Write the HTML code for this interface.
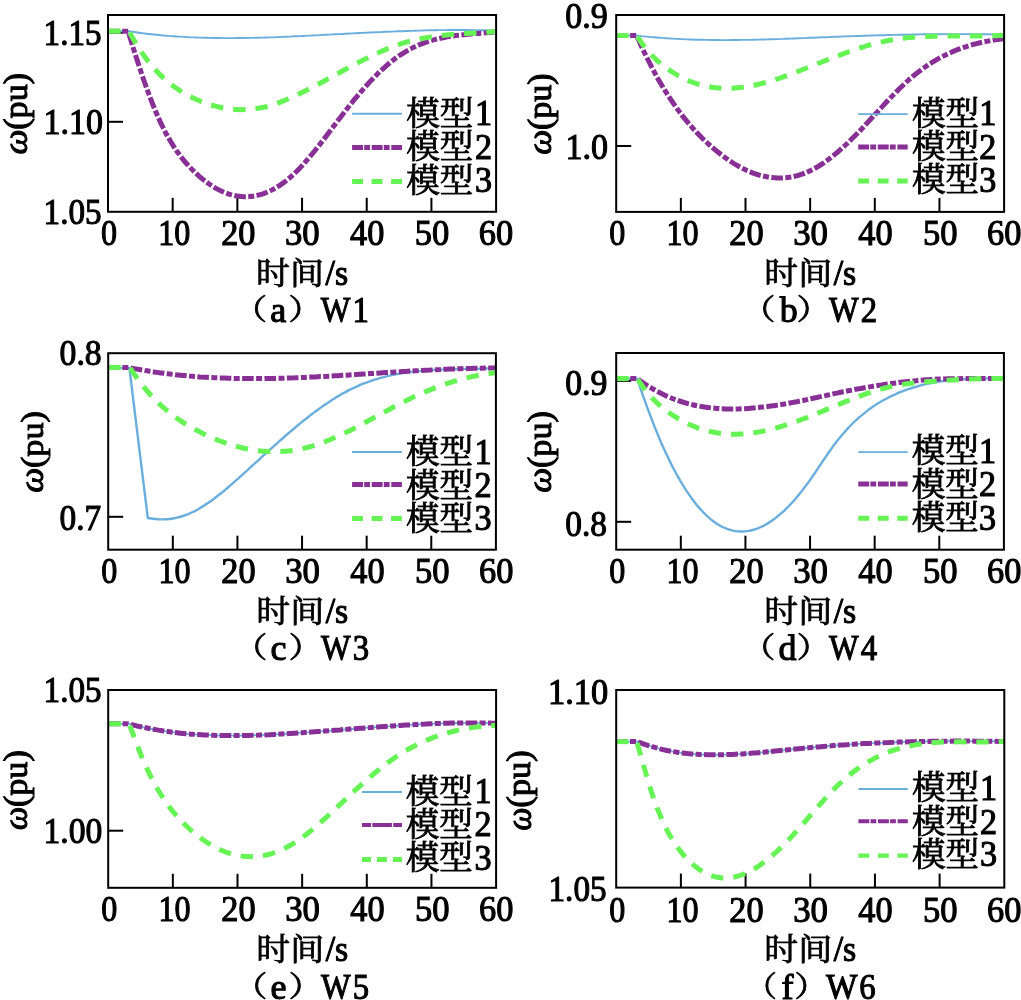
<!DOCTYPE html>
<html><head><meta charset="utf-8"><title>figure</title>
<style>
html,body{margin:0;padding:0;background:#fff;overflow:hidden;}
svg{display:block;}
.ax{stroke:#000;stroke-width:2.0;fill:none;}
.fr{stroke:#000;stroke-width:2.0;fill:none;}
.blue{stroke:#6aaede;stroke-width:1.9;fill:none;}
.purple{stroke:#893097;stroke-width:5.0;fill:none;stroke-dasharray:11.6 2.4 6 2.4;}
.green{stroke:#66f455;stroke-width:5.0;fill:none;stroke-dasharray:12.4 10;}
.purple.lg{stroke-dasharray:10.9 1.2 5.8 1.7;}
.green.lg{stroke-dasharray:10.9 8.6;}
.purple.lg2{stroke-width:4.0;stroke-dasharray:9 1.3 19.6 1.3 9 20;}
.green.lg2{stroke-dasharray:9 6 9.9 6.1 9 20;}
text{font-size:36px;fill:#000;stroke:#000;stroke-width:0.9px;stroke-linejoin:miter;stroke-miterlimit:3;}
.l{font-family:"Liberation Serif", serif;stroke-width:1.1px;}
.i{font-family:"Liberation Serif", serif;font-style:italic;stroke-width:1.1px;}
.c{font-family:"Liberation Serif", "Noto Serif CJK SC", serif;}
</style></head><body>
<svg width="1021" height="1000" viewBox="0 0 1021 1000">
<rect width="1021" height="1000" fill="#fff"/>
<line x1="172.68" y1="211.80" x2="172.68" y2="197.80" class="ax"/>
<line x1="237.37" y1="211.80" x2="237.37" y2="197.80" class="ax"/>
<line x1="302.05" y1="211.80" x2="302.05" y2="197.80" class="ax"/>
<line x1="366.73" y1="211.80" x2="366.73" y2="197.80" class="ax"/>
<line x1="431.42" y1="211.80" x2="431.42" y2="197.80" class="ax"/>
<line x1="108.00" y1="32.60" x2="123.00" y2="32.60" class="ax"/>
<line x1="108.00" y1="121.80" x2="123.00" y2="121.80" class="ax"/>
<path d="M108.20,31.30 L128.70,31.30 L128.7,31.3 C129.5,31.4 132.1,31.8 133.7,32.0 C135.4,32.3 137.1,32.5 138.8,32.7 C140.4,33.0 142.1,33.2 143.8,33.4 C145.5,33.6 147.1,33.8 148.8,34.0 C150.5,34.2 152.2,34.3 153.9,34.5 C155.5,34.7 157.2,34.9 158.9,35.0 C160.6,35.2 162.2,35.3 163.9,35.5 C165.6,35.6 167.3,35.8 169.0,35.9 C170.6,36.0 172.3,36.2 174.0,36.3 C175.7,36.4 177.3,36.5 179.0,36.6 C180.7,36.7 182.4,36.8 184.0,36.9 C185.7,37.0 187.4,37.1 189.1,37.2 C190.8,37.2 192.4,37.3 194.1,37.4 C195.8,37.5 197.5,37.5 199.1,37.6 C200.8,37.6 202.5,37.7 204.2,37.7 C205.8,37.8 207.5,37.8 209.2,37.9 C210.9,37.9 212.6,37.9 214.2,38.0 C215.9,38.0 217.6,38.0 219.3,38.0 C220.9,38.1 222.6,38.1 224.3,38.1 C226.0,38.1 227.7,38.1 229.3,38.1 C231.0,38.1 232.7,38.1 234.4,38.1 C236.0,38.1 237.7,38.0 239.4,38.0 C241.1,38.0 242.7,38.0 244.4,38.0 C246.1,37.9 247.8,37.9 249.5,37.9 C251.1,37.9 252.8,37.8 254.5,37.8 C256.2,37.7 257.8,37.7 259.5,37.7 C261.2,37.6 262.9,37.6 264.6,37.5 C266.2,37.5 267.9,37.4 269.6,37.4 C271.3,37.3 272.9,37.2 274.6,37.2 C276.3,37.1 278.0,37.1 279.6,37.0 C281.3,36.9 283.0,36.9 284.7,36.8 C286.4,36.7 288.0,36.6 289.7,36.6 C291.4,36.5 293.1,36.4 294.7,36.3 C296.4,36.3 298.1,36.2 299.8,36.1 C301.4,36.0 303.1,36.0 304.8,35.9 C306.5,35.8 308.2,35.7 309.8,35.6 C311.5,35.5 313.2,35.5 314.9,35.4 C316.5,35.3 318.2,35.2 319.9,35.1 C321.6,35.0 323.3,34.9 324.9,34.8 C326.6,34.8 328.3,34.7 330.0,34.6 C331.6,34.5 333.3,34.4 335.0,34.3 C336.7,34.2 338.3,34.1 340.0,34.1 C341.7,34.0 343.4,33.9 345.1,33.8 C346.7,33.7 348.4,33.6 350.1,33.5 C351.8,33.4 353.4,33.4 355.1,33.3 C356.8,33.2 358.5,33.1 360.1,33.0 C361.8,32.9 363.5,32.9 365.2,32.8 C366.9,32.7 368.5,32.6 370.2,32.5 C371.9,32.4 373.6,32.4 375.2,32.3 C376.9,32.2 378.6,32.1 380.3,32.1 C382.0,32.0 383.6,31.9 385.3,31.8 C387.0,31.8 388.7,31.7 390.3,31.6 C392.0,31.6 393.7,31.5 395.4,31.4 C397.0,31.3 398.7,31.3 400.4,31.2 C402.1,31.2 403.8,31.1 405.4,31.0 C407.1,31.0 408.8,30.9 410.5,30.9 C412.1,30.8 413.8,30.8 415.5,30.7 C417.2,30.7 418.9,30.6 420.5,30.6 C422.2,30.5 423.9,30.5 425.6,30.4 C427.2,30.4 428.9,30.4 430.6,30.3 C432.3,30.3 433.9,30.3 435.6,30.2 C437.3,30.2 439.0,30.2 440.7,30.1 C442.3,30.1 444.0,30.1 445.7,30.1 C447.4,30.1 449.0,30.0 450.7,30.0 C452.4,30.0 454.1,30.0 455.7,30.0 C457.4,30.0 459.1,30.0 460.8,30.0 C462.5,30.0 464.1,30.0 465.8,30.0 C467.5,30.0 469.2,30.0 470.8,30.1 C472.5,30.1 474.2,30.1 475.9,30.1 C477.6,30.1 479.2,30.2 480.9,30.2 C482.6,30.2 484.3,30.3 485.9,30.3 C487.6,30.3 489.3,30.4 491.0,30.4 C492.6,30.5 495.2,30.6 496.0,30.6" class="blue"/>
<path d="M108.20,31.30 L128.20,31.30 L128.2,31.3 C129.0,34.1 131.6,42.5 133.2,47.9 C134.9,53.3 136.6,58.5 138.3,63.7 C140.0,68.8 141.6,73.8 143.3,78.7 C145.0,83.5 146.7,88.3 148.4,92.8 C150.0,97.4 151.7,101.8 153.4,106.0 C155.1,110.1 156.8,114.1 158.4,117.9 C160.1,121.6 161.8,125.1 163.5,128.5 C165.1,131.8 166.8,134.9 168.5,137.9 C170.2,140.8 171.9,143.6 173.5,146.2 C175.2,148.8 176.9,151.3 178.6,153.6 C180.3,155.9 181.9,158.0 183.6,160.1 C185.3,162.2 187.0,164.1 188.7,165.9 C190.3,167.7 192.0,169.5 193.7,171.1 C195.4,172.8 197.1,174.3 198.7,175.8 C200.4,177.3 202.1,178.7 203.8,180.1 C205.5,181.4 207.1,182.6 208.8,183.8 C210.5,185.0 212.2,186.1 213.9,187.1 C215.5,188.1 217.2,189.0 218.9,189.9 C220.6,190.8 222.2,191.5 223.9,192.2 C225.6,192.9 227.3,193.5 229.0,194.1 C230.6,194.6 232.3,195.0 234.0,195.4 C235.7,195.8 237.4,196.1 239.0,196.3 C240.7,196.5 242.4,196.6 244.1,196.7 C245.8,196.7 247.4,196.7 249.1,196.6 C250.8,196.5 252.5,196.3 254.2,196.0 C255.8,195.7 257.5,195.4 259.2,194.9 C260.9,194.5 262.6,193.9 264.2,193.3 C265.9,192.7 267.6,192.0 269.3,191.3 C271.0,190.5 272.6,189.6 274.3,188.7 C276.0,187.8 277.7,186.7 279.4,185.6 C281.0,184.5 282.7,183.3 284.4,182.1 C286.1,180.8 287.7,179.4 289.4,178.0 C291.1,176.6 292.8,175.0 294.5,173.4 C296.1,171.8 297.8,170.1 299.5,168.4 C301.2,166.6 302.9,164.8 304.5,162.9 C306.2,161.0 307.9,159.1 309.6,157.1 C311.3,155.1 312.9,153.1 314.6,151.0 C316.3,148.9 318.0,146.8 319.7,144.6 C321.3,142.5 323.0,140.3 324.7,138.1 C326.4,135.9 328.1,133.7 329.7,131.5 C331.4,129.3 333.1,127.1 334.8,124.8 C336.5,122.6 338.1,120.4 339.8,118.2 C341.5,116.0 343.2,113.8 344.8,111.6 C346.5,109.4 348.2,107.3 349.9,105.2 C351.6,103.1 353.2,101.0 354.9,98.9 C356.6,96.9 358.3,94.9 360.0,92.9 C361.6,91.0 363.3,89.0 365.0,87.2 C366.7,85.3 368.4,83.4 370.0,81.6 C371.7,79.8 373.4,78.1 375.1,76.4 C376.8,74.7 378.4,73.0 380.1,71.4 C381.8,69.8 383.5,68.3 385.2,66.8 C386.8,65.3 388.5,63.9 390.2,62.5 C391.9,61.1 393.6,59.8 395.2,58.6 C396.9,57.3 398.6,56.1 400.3,55.0 C402.0,53.9 403.6,52.8 405.3,51.8 C407.0,50.8 408.7,49.9 410.3,49.0 C412.0,48.1 413.7,47.3 415.4,46.5 C417.1,45.7 418.7,45.0 420.4,44.3 C422.1,43.7 423.8,43.0 425.5,42.4 C427.1,41.8 428.8,41.3 430.5,40.8 C432.2,40.3 433.9,39.8 435.5,39.4 C437.2,38.9 438.9,38.5 440.6,38.2 C442.3,37.8 443.9,37.5 445.6,37.2 C447.3,36.8 449.0,36.6 450.7,36.3 C452.3,36.0 454.0,35.8 455.7,35.6 C457.4,35.4 459.1,35.2 460.7,35.0 C462.4,34.8 464.1,34.6 465.8,34.5 C467.4,34.3 469.1,34.2 470.8,34.0 C472.5,33.9 474.2,33.7 475.8,33.6 C477.5,33.5 479.2,33.4 480.9,33.2 C482.6,33.1 484.2,33.0 485.9,32.8 C487.6,32.7 489.3,32.5 491.0,32.4 C492.6,32.2 495.2,32.0 496.0,31.9" class="purple"/>
<path d="M108.20,31.30 L129.00,31.30 L129.0,31.3 C129.8,32.8 132.4,37.5 134.0,40.3 C135.7,43.2 137.4,45.9 139.1,48.5 C140.7,51.1 142.4,53.5 144.1,55.8 C145.8,58.2 147.4,60.4 149.1,62.5 C150.8,64.5 152.5,66.5 154.1,68.4 C155.8,70.3 157.5,72.1 159.2,73.8 C160.8,75.5 162.5,77.1 164.2,78.6 C165.9,80.1 167.5,81.5 169.2,82.9 C170.9,84.3 172.6,85.6 174.2,86.8 C175.9,88.0 177.6,89.1 179.3,90.2 C180.9,91.3 182.6,92.4 184.3,93.3 C186.0,94.3 187.7,95.2 189.3,96.1 C191.0,97.0 192.7,97.8 194.4,98.5 C196.0,99.3 197.7,100.1 199.4,100.8 C201.1,101.5 202.7,102.1 204.4,102.7 C206.1,103.3 207.8,103.9 209.4,104.5 C211.1,105.0 212.8,105.5 214.5,105.9 C216.1,106.4 217.8,106.8 219.5,107.2 C221.2,107.6 222.8,107.9 224.5,108.2 C226.2,108.5 227.9,108.7 229.5,108.9 C231.2,109.1 232.9,109.3 234.6,109.4 C236.3,109.5 237.9,109.6 239.6,109.7 C241.3,109.7 243.0,109.7 244.6,109.6 C246.3,109.6 248.0,109.5 249.7,109.4 C251.3,109.2 253.0,109.0 254.7,108.8 C256.4,108.6 258.0,108.3 259.7,108.0 C261.4,107.7 263.1,107.4 264.7,107.0 C266.4,106.6 268.1,106.1 269.8,105.6 C271.4,105.1 273.1,104.6 274.8,104.1 C276.5,103.5 278.1,102.9 279.8,102.3 C281.5,101.7 283.2,101.0 284.8,100.3 C286.5,99.7 288.2,99.0 289.9,98.2 C291.6,97.5 293.2,96.7 294.9,96.0 C296.6,95.2 298.3,94.4 299.9,93.6 C301.6,92.8 303.3,91.9 305.0,91.1 C306.6,90.3 308.3,89.4 310.0,88.6 C311.7,87.7 313.3,86.8 315.0,85.9 C316.7,85.0 318.4,84.2 320.0,83.3 C321.7,82.4 323.4,81.4 325.1,80.5 C326.7,79.6 328.4,78.7 330.1,77.8 C331.8,76.9 333.4,76.0 335.1,75.0 C336.8,74.1 338.5,73.2 340.2,72.3 C341.8,71.4 343.5,70.4 345.2,69.5 C346.9,68.6 348.5,67.7 350.2,66.8 C351.9,65.9 353.6,65.0 355.2,64.1 C356.9,63.2 358.6,62.4 360.3,61.5 C361.9,60.6 363.6,59.8 365.3,58.9 C367.0,58.1 368.6,57.3 370.3,56.4 C372.0,55.6 373.7,54.8 375.3,54.1 C377.0,53.3 378.7,52.5 380.4,51.8 C382.0,51.0 383.7,50.3 385.4,49.6 C387.1,48.9 388.7,48.2 390.4,47.6 C392.1,46.9 393.8,46.3 395.5,45.7 C397.1,45.1 398.8,44.5 400.5,44.0 C402.2,43.4 403.8,42.9 405.5,42.4 C407.2,41.9 408.9,41.4 410.5,41.0 C412.2,40.6 413.9,40.2 415.6,39.8 C417.2,39.4 418.9,39.0 420.6,38.7 C422.3,38.4 423.9,38.0 425.6,37.7 C427.3,37.5 429.0,37.2 430.6,36.9 C432.3,36.7 434.0,36.4 435.7,36.2 C437.3,36.0 439.0,35.8 440.7,35.6 C442.4,35.4 444.1,35.2 445.7,35.0 C447.4,34.9 449.1,34.7 450.8,34.6 C452.4,34.4 454.1,34.3 455.8,34.2 C457.5,34.0 459.1,33.9 460.8,33.8 C462.5,33.7 464.2,33.6 465.8,33.5 C467.5,33.4 469.2,33.3 470.9,33.2 C472.5,33.1 474.2,33.0 475.9,32.9 C477.6,32.8 479.2,32.7 480.9,32.6 C482.6,32.4 484.3,32.3 485.9,32.2 C487.6,32.1 489.3,32.0 491.0,31.9 C492.6,31.8 495.2,31.6 496.0,31.5" class="green"/>
<rect x="108.00" y="15.00" width="388.10" height="196.80" class="fr"/>
<line x1="352.10" y1="113.80" x2="402.00" y2="113.80" class="blue lg"/>
<line x1="352.10" y1="147.50" x2="402.00" y2="147.50" class="purple lg"/>
<line x1="352.10" y1="181.40" x2="402.00" y2="181.40" class="green lg"/>
<line x1="680.85" y1="211.90" x2="680.85" y2="197.90" class="ax"/>
<line x1="745.50" y1="211.90" x2="745.50" y2="197.90" class="ax"/>
<line x1="810.15" y1="211.90" x2="810.15" y2="197.90" class="ax"/>
<line x1="874.80" y1="211.90" x2="874.80" y2="197.90" class="ax"/>
<line x1="939.45" y1="211.90" x2="939.45" y2="197.90" class="ax"/>
<line x1="616.20" y1="146.00" x2="631.20" y2="146.00" class="ax"/>
<path d="M616.10,35.50 L636.60,35.50 L636.6,35.5 C637.4,35.6 640.0,35.9 641.6,36.1 C643.3,36.2 645.0,36.4 646.7,36.6 C648.4,36.8 650.0,36.9 651.7,37.1 C653.4,37.2 655.1,37.4 656.7,37.5 C658.4,37.6 660.1,37.8 661.8,37.9 C663.5,38.0 665.1,38.2 666.8,38.3 C668.5,38.4 670.2,38.5 671.9,38.6 C673.5,38.7 675.2,38.8 676.9,38.9 C678.6,39.0 680.3,39.1 681.9,39.1 C683.6,39.2 685.3,39.3 687.0,39.4 C688.6,39.4 690.3,39.5 692.0,39.5 C693.7,39.6 695.4,39.7 697.0,39.7 C698.7,39.7 700.4,39.8 702.1,39.8 C703.8,39.9 705.4,39.9 707.1,39.9 C708.8,40.0 710.5,40.0 712.2,40.0 C713.8,40.0 715.5,40.0 717.2,40.0 C718.9,40.1 720.5,40.1 722.2,40.1 C723.9,40.1 725.6,40.1 727.3,40.1 C728.9,40.1 730.6,40.1 732.3,40.0 C734.0,40.0 735.7,40.0 737.3,40.0 C739.0,40.0 740.7,40.0 742.4,39.9 C744.1,39.9 745.7,39.9 747.4,39.9 C749.1,39.8 750.8,39.8 752.5,39.8 C754.1,39.7 755.8,39.7 757.5,39.6 C759.2,39.6 760.8,39.6 762.5,39.5 C764.2,39.5 765.9,39.4 767.6,39.4 C769.2,39.3 770.9,39.3 772.6,39.2 C774.3,39.2 776.0,39.1 777.6,39.1 C779.3,39.0 781.0,38.9 782.7,38.9 C784.4,38.8 786.0,38.8 787.7,38.7 C789.4,38.6 791.1,38.6 792.7,38.5 C794.4,38.5 796.1,38.4 797.8,38.3 C799.5,38.3 801.1,38.2 802.8,38.1 C804.5,38.1 806.2,38.0 807.9,37.9 C809.5,37.8 811.2,37.8 812.9,37.7 C814.6,37.6 816.3,37.6 817.9,37.5 C819.6,37.4 821.3,37.4 823.0,37.3 C824.6,37.2 826.3,37.2 828.0,37.1 C829.7,37.0 831.4,37.0 833.0,36.9 C834.7,36.8 836.4,36.8 838.1,36.7 C839.8,36.6 841.4,36.6 843.1,36.5 C844.8,36.4 846.5,36.4 848.2,36.3 C849.8,36.3 851.5,36.2 853.2,36.1 C854.9,36.1 856.5,36.0 858.2,36.0 C859.9,35.9 861.6,35.8 863.3,35.8 C864.9,35.7 866.6,35.7 868.3,35.6 C870.0,35.6 871.7,35.5 873.3,35.5 C875.0,35.4 876.7,35.4 878.4,35.3 C880.1,35.3 881.7,35.2 883.4,35.2 C885.1,35.1 886.8,35.1 888.4,35.0 C890.1,35.0 891.8,35.0 893.5,34.9 C895.2,34.9 896.8,34.8 898.5,34.8 C900.2,34.8 901.9,34.7 903.6,34.7 C905.2,34.6 906.9,34.6 908.6,34.6 C910.3,34.5 912.0,34.5 913.6,34.5 C915.3,34.5 917.0,34.4 918.7,34.4 C920.4,34.4 922.0,34.4 923.7,34.3 C925.4,34.3 927.1,34.3 928.7,34.3 C930.4,34.2 932.1,34.2 933.8,34.2 C935.5,34.2 937.1,34.2 938.8,34.2 C940.5,34.1 942.2,34.1 943.9,34.1 C945.5,34.1 947.2,34.1 948.9,34.1 C950.6,34.1 952.3,34.1 953.9,34.1 C955.6,34.1 957.3,34.1 959.0,34.1 C960.6,34.1 962.3,34.1 964.0,34.1 C965.7,34.1 967.4,34.1 969.0,34.1 C970.7,34.1 972.4,34.1 974.1,34.1 C975.8,34.2 977.4,34.2 979.1,34.2 C980.8,34.2 982.5,34.2 984.2,34.2 C985.8,34.3 987.5,34.3 989.2,34.3 C990.9,34.3 992.5,34.4 994.2,34.4 C995.9,34.4 997.6,34.5 999.3,34.5 C1000.9,34.5 1003.5,34.6 1004.3,34.6" class="blue"/>
<path d="M616.10,35.50 L636.60,35.50 L636.6,35.5 C637.4,37.4 640.0,43.1 641.6,46.7 C643.3,50.3 645.0,53.8 646.7,57.2 C648.4,60.6 650.0,63.9 651.7,67.1 C653.4,70.4 655.1,73.5 656.7,76.5 C658.4,79.5 660.1,82.4 661.8,85.2 C663.5,88.1 665.1,90.8 666.8,93.4 C668.5,96.1 670.2,98.7 671.9,101.1 C673.5,103.6 675.2,106.0 676.9,108.4 C678.6,110.7 680.3,112.9 681.9,115.1 C683.6,117.3 685.3,119.4 687.0,121.4 C688.6,123.4 690.3,125.4 692.0,127.3 C693.7,129.2 695.4,131.0 697.0,132.8 C698.7,134.6 700.4,136.3 702.1,138.0 C703.8,139.6 705.4,141.2 707.1,142.8 C708.8,144.4 710.5,145.9 712.2,147.3 C713.8,148.8 715.5,150.2 717.2,151.5 C718.9,152.9 720.5,154.2 722.2,155.5 C723.9,156.8 725.6,158.0 727.3,159.1 C728.9,160.3 730.6,161.4 732.3,162.5 C734.0,163.6 735.7,164.6 737.3,165.5 C739.0,166.5 740.7,167.4 742.4,168.3 C744.1,169.1 745.7,169.9 747.4,170.7 C749.1,171.4 750.8,172.1 752.5,172.8 C754.1,173.4 755.8,174.0 757.5,174.5 C759.2,175.0 760.8,175.5 762.5,175.9 C764.2,176.3 765.9,176.7 767.6,176.9 C769.2,177.2 770.9,177.5 772.6,177.6 C774.3,177.8 776.0,177.9 777.6,178.0 C779.3,178.0 781.0,178.0 782.7,177.9 C784.4,177.8 786.0,177.7 787.7,177.5 C789.4,177.3 791.1,177.0 792.7,176.7 C794.4,176.3 796.1,175.9 797.8,175.5 C799.5,175.0 801.1,174.5 802.8,173.9 C804.5,173.3 806.2,172.6 807.9,171.8 C809.5,171.1 811.2,170.3 812.9,169.4 C814.6,168.5 816.3,167.6 817.9,166.6 C819.6,165.6 821.3,164.5 823.0,163.4 C824.6,162.2 826.3,161.0 828.0,159.8 C829.7,158.5 831.4,157.2 833.0,155.9 C834.7,154.5 836.4,153.1 838.1,151.7 C839.8,150.3 841.4,148.8 843.1,147.2 C844.8,145.7 846.5,144.1 848.2,142.5 C849.8,140.9 851.5,139.3 853.2,137.6 C854.9,135.9 856.5,134.2 858.2,132.5 C859.9,130.8 861.6,129.0 863.3,127.2 C864.9,125.4 866.6,123.6 868.3,121.8 C870.0,120.0 871.7,118.2 873.3,116.3 C875.0,114.5 876.7,112.7 878.4,110.8 C880.1,109.0 881.7,107.2 883.4,105.4 C885.1,103.5 886.8,101.7 888.4,100.0 C890.1,98.2 891.8,96.4 893.5,94.7 C895.2,92.9 896.8,91.2 898.5,89.6 C900.2,87.9 901.9,86.3 903.6,84.7 C905.2,83.1 906.9,81.5 908.6,80.0 C910.3,78.6 912.0,77.1 913.6,75.7 C915.3,74.3 917.0,73.0 918.7,71.7 C920.4,70.4 922.0,69.2 923.7,68.0 C925.4,66.8 927.1,65.6 928.7,64.5 C930.4,63.4 932.1,62.4 933.8,61.4 C935.5,60.3 937.1,59.4 938.8,58.4 C940.5,57.5 942.2,56.6 943.9,55.8 C945.5,54.9 947.2,54.1 948.9,53.3 C950.6,52.5 952.3,51.8 953.9,51.1 C955.6,50.4 957.3,49.7 959.0,49.1 C960.6,48.5 962.3,47.9 964.0,47.3 C965.7,46.7 967.4,46.2 969.0,45.7 C970.7,45.2 972.4,44.7 974.1,44.2 C975.8,43.8 977.4,43.4 979.1,43.0 C980.8,42.6 982.5,42.2 984.2,41.8 C985.8,41.5 987.5,41.2 989.2,40.9 C990.9,40.6 992.5,40.3 994.2,40.0 C995.9,39.8 997.6,39.5 999.3,39.3 C1000.9,39.1 1003.5,38.8 1004.3,38.7" class="purple"/>
<path d="M616.10,35.50 L636.60,35.50 L636.6,35.5 C637.4,36.7 640.0,40.5 641.6,42.9 C643.3,45.2 645.0,47.3 646.7,49.4 C648.4,51.4 650.0,53.3 651.7,55.1 C653.4,56.9 655.1,58.5 656.7,60.1 C658.4,61.7 660.1,63.1 661.8,64.5 C663.5,65.9 665.1,67.2 666.8,68.4 C668.5,69.6 670.2,70.7 671.9,71.8 C673.5,72.9 675.2,73.9 676.9,74.9 C678.6,75.8 680.3,76.7 681.9,77.6 C683.6,78.4 685.3,79.2 687.0,80.0 C688.6,80.7 690.3,81.4 692.0,82.0 C693.7,82.7 695.4,83.2 697.0,83.8 C698.7,84.3 700.4,84.8 702.1,85.2 C703.8,85.7 705.4,86.0 707.1,86.4 C708.8,86.7 710.5,87.0 712.2,87.2 C713.8,87.5 715.5,87.7 717.2,87.9 C718.9,88.0 720.5,88.1 722.2,88.2 C723.9,88.3 725.6,88.3 727.3,88.3 C728.9,88.3 730.6,88.2 732.3,88.2 C734.0,88.1 735.7,88.0 737.3,87.8 C739.0,87.7 740.7,87.5 742.4,87.3 C744.1,87.0 745.7,86.8 747.4,86.5 C749.1,86.2 750.8,85.9 752.5,85.6 C754.1,85.2 755.8,84.9 757.5,84.5 C759.2,84.1 760.8,83.7 762.5,83.3 C764.2,82.8 765.9,82.4 767.6,81.9 C769.2,81.4 770.9,80.9 772.6,80.4 C774.3,79.9 776.0,79.3 777.6,78.8 C779.3,78.2 781.0,77.6 782.7,77.1 C784.4,76.5 786.0,75.9 787.7,75.3 C789.4,74.7 791.1,74.0 792.7,73.4 C794.4,72.8 796.1,72.1 797.8,71.5 C799.5,70.8 801.1,70.2 802.8,69.5 C804.5,68.9 806.2,68.2 807.9,67.5 C809.5,66.9 811.2,66.2 812.9,65.5 C814.6,64.9 816.3,64.2 817.9,63.5 C819.6,62.9 821.3,62.2 823.0,61.5 C824.6,60.9 826.3,60.2 828.0,59.6 C829.7,58.9 831.4,58.2 833.0,57.6 C834.7,57.0 836.4,56.3 838.1,55.7 C839.8,55.0 841.4,54.4 843.1,53.8 C844.8,53.2 846.5,52.6 848.2,52.0 C849.8,51.4 851.5,50.8 853.2,50.2 C854.9,49.6 856.5,49.1 858.2,48.5 C859.9,48.0 861.6,47.5 863.3,46.9 C864.9,46.4 866.6,45.9 868.3,45.4 C870.0,44.9 871.7,44.5 873.3,44.0 C875.0,43.6 876.7,43.1 878.4,42.7 C880.1,42.3 881.7,41.9 883.4,41.6 C885.1,41.2 886.8,40.8 888.4,40.5 C890.1,40.2 891.8,39.9 893.5,39.6 C895.2,39.3 896.8,39.1 898.5,38.8 C900.2,38.6 901.9,38.4 903.6,38.2 C905.2,38.0 906.9,37.8 908.6,37.6 C910.3,37.5 912.0,37.3 913.6,37.2 C915.3,37.1 917.0,36.9 918.7,36.8 C920.4,36.7 922.0,36.6 923.7,36.6 C925.4,36.5 927.1,36.4 928.7,36.4 C930.4,36.3 932.1,36.2 933.8,36.2 C935.5,36.2 937.1,36.1 938.8,36.1 C940.5,36.1 942.2,36.1 943.9,36.1 C945.5,36.1 947.2,36.1 948.9,36.1 C950.6,36.0 952.3,36.1 953.9,36.1 C955.6,36.1 957.3,36.1 959.0,36.1 C960.6,36.1 962.3,36.1 964.0,36.1 C965.7,36.1 967.4,36.1 969.0,36.1 C970.7,36.1 972.4,36.1 974.1,36.1 C975.8,36.1 977.4,36.1 979.1,36.1 C980.8,36.1 982.5,36.0 984.2,36.0 C985.8,36.0 987.5,35.9 989.2,35.9 C990.9,35.9 992.5,35.8 994.2,35.7 C995.9,35.7 997.6,35.6 999.3,35.5 C1000.9,35.4 1003.5,35.3 1004.3,35.2" class="green"/>
<rect x="616.20" y="15.00" width="387.90" height="196.90" class="fr"/>
<line x1="858.20" y1="114.10" x2="907.70" y2="114.10" class="blue lg"/>
<line x1="858.20" y1="146.90" x2="907.70" y2="146.90" class="purple lg"/>
<line x1="858.20" y1="181.10" x2="907.70" y2="181.10" class="green lg"/>
<line x1="172.82" y1="549.70" x2="172.82" y2="535.70" class="ax"/>
<line x1="237.43" y1="549.70" x2="237.43" y2="535.70" class="ax"/>
<line x1="302.05" y1="549.70" x2="302.05" y2="535.70" class="ax"/>
<line x1="366.67" y1="549.70" x2="366.67" y2="535.70" class="ax"/>
<line x1="431.28" y1="549.70" x2="431.28" y2="535.70" class="ax"/>
<line x1="108.20" y1="516.80" x2="123.20" y2="516.80" class="ax"/>
<path d="M108.40,367.60 L129.40,368.10 L147.80,518.00 L147.8,518.0 C148.6,518.1 151.2,518.6 152.8,518.8 C154.5,519.0 156.2,519.2 157.9,519.3 C159.6,519.3 161.2,519.4 162.9,519.4 C164.6,519.3 166.3,519.3 168.0,519.1 C169.7,519.0 171.3,518.8 173.0,518.5 C174.7,518.2 176.4,517.9 178.1,517.4 C179.7,517.0 181.4,516.6 183.1,516.0 C184.8,515.4 186.5,514.8 188.1,514.1 C189.8,513.4 191.5,512.7 193.2,511.8 C194.9,511.0 196.6,510.1 198.2,509.2 C199.9,508.2 201.6,507.2 203.3,506.1 C205.0,505.1 206.6,504.0 208.3,502.8 C210.0,501.7 211.7,500.4 213.4,499.2 C215.0,498.0 216.7,496.7 218.4,495.3 C220.1,494.0 221.8,492.7 223.5,491.3 C225.1,489.9 226.8,488.5 228.5,487.0 C230.2,485.6 231.9,484.1 233.5,482.7 C235.2,481.2 236.9,479.7 238.6,478.2 C240.3,476.7 241.9,475.1 243.6,473.6 C245.3,472.1 247.0,470.6 248.7,469.0 C250.4,467.5 252.0,465.9 253.7,464.4 C255.4,462.9 257.1,461.3 258.8,459.8 C260.4,458.3 262.1,456.7 263.8,455.2 C265.5,453.7 267.2,452.2 268.8,450.6 C270.5,449.1 272.2,447.6 273.9,446.1 C275.6,444.6 277.2,443.1 278.9,441.6 C280.6,440.1 282.3,438.6 284.0,437.2 C285.7,435.7 287.3,434.2 289.0,432.8 C290.7,431.4 292.4,429.9 294.1,428.5 C295.7,427.1 297.4,425.7 299.1,424.3 C300.8,422.9 302.5,421.6 304.1,420.2 C305.8,418.9 307.5,417.6 309.2,416.2 C310.9,414.9 312.6,413.7 314.2,412.4 C315.9,411.1 317.6,409.9 319.3,408.7 C321.0,407.5 322.6,406.3 324.3,405.1 C326.0,404.0 327.7,402.8 329.4,401.7 C331.0,400.6 332.7,399.5 334.4,398.5 C336.1,397.4 337.8,396.4 339.5,395.4 C341.1,394.4 342.8,393.5 344.5,392.6 C346.2,391.7 347.9,390.8 349.5,389.9 C351.2,389.1 352.9,388.3 354.6,387.5 C356.3,386.7 357.9,386.0 359.6,385.2 C361.3,384.5 363.0,383.8 364.7,383.2 C366.4,382.5 368.0,381.9 369.7,381.3 C371.4,380.7 373.1,380.2 374.8,379.7 C376.4,379.1 378.1,378.6 379.8,378.1 C381.5,377.7 383.2,377.2 384.8,376.8 C386.5,376.3 388.2,375.9 389.9,375.6 C391.6,375.2 393.2,374.8 394.9,374.5 C396.6,374.2 398.3,373.8 400.0,373.5 C401.7,373.2 403.3,373.0 405.0,372.7 C406.7,372.5 408.4,372.2 410.1,372.0 C411.7,371.8 413.4,371.6 415.1,371.4 C416.8,371.2 418.5,371.0 420.1,370.9 C421.8,370.7 423.5,370.6 425.2,370.4 C426.9,370.3 428.6,370.2 430.2,370.1 C431.9,370.0 433.6,369.9 435.3,369.8 C437.0,369.7 438.6,369.6 440.3,369.6 C442.0,369.5 443.7,369.4 445.4,369.4 C447.0,369.3 448.7,369.3 450.4,369.2 C452.1,369.2 453.8,369.1 455.5,369.1 C457.1,369.1 458.8,369.0 460.5,369.0 C462.2,369.0 463.9,368.9 465.5,368.9 C467.2,368.9 468.9,368.9 470.6,368.8 C472.3,368.8 473.9,368.8 475.6,368.7 C477.3,368.7 479.0,368.7 480.7,368.6 C482.4,368.6 484.0,368.5 485.7,368.5 C487.4,368.4 489.1,368.4 490.8,368.3 C492.4,368.3 495.0,368.1 495.8,368.1" class="blue" style="stroke-width:2.4"/>
<path d="M108.40,367.60 L129.40,367.60 L129.4,367.6 C130.2,367.8 132.7,368.3 134.4,368.6 C136.1,368.9 137.8,369.2 139.4,369.5 C141.1,369.8 142.8,370.1 144.5,370.4 C146.1,370.7 147.8,370.9 149.5,371.2 C151.1,371.5 152.8,371.7 154.5,372.0 C156.2,372.2 157.8,372.5 159.5,372.7 C161.2,372.9 162.9,373.2 164.5,373.4 C166.2,373.6 167.9,373.8 169.6,374.0 C171.2,374.2 172.9,374.4 174.6,374.6 C176.2,374.8 177.9,375.0 179.6,375.1 C181.3,375.3 182.9,375.5 184.6,375.6 C186.3,375.8 188.0,375.9 189.6,376.1 C191.3,376.2 193.0,376.4 194.6,376.5 C196.3,376.6 198.0,376.7 199.7,376.9 C201.3,377.0 203.0,377.1 204.7,377.2 C206.4,377.3 208.0,377.4 209.7,377.5 C211.4,377.6 213.1,377.7 214.7,377.7 C216.4,377.8 218.1,377.9 219.7,378.0 C221.4,378.0 223.1,378.1 224.8,378.1 C226.4,378.2 228.1,378.3 229.8,378.3 C231.5,378.3 233.1,378.4 234.8,378.4 C236.5,378.5 238.1,378.5 239.8,378.5 C241.5,378.5 243.2,378.6 244.8,378.6 C246.5,378.6 248.2,378.6 249.9,378.6 C251.5,378.6 253.2,378.6 254.9,378.6 C256.6,378.6 258.2,378.6 259.9,378.6 C261.6,378.6 263.2,378.6 264.9,378.5 C266.6,378.5 268.3,378.5 269.9,378.5 C271.6,378.4 273.3,378.4 275.0,378.4 C276.6,378.3 278.3,378.3 280.0,378.3 C281.6,378.2 283.3,378.2 285.0,378.1 C286.7,378.1 288.3,378.0 290.0,378.0 C291.7,377.9 293.4,377.8 295.0,377.8 C296.7,377.7 298.4,377.7 300.1,377.6 C301.7,377.5 303.4,377.4 305.1,377.4 C306.7,377.3 308.4,377.2 310.1,377.1 C311.8,377.1 313.4,377.0 315.1,376.9 C316.8,376.8 318.5,376.7 320.1,376.6 C321.8,376.6 323.5,376.5 325.1,376.4 C326.8,376.3 328.5,376.2 330.2,376.1 C331.8,376.0 333.5,375.9 335.2,375.8 C336.9,375.7 338.5,375.6 340.2,375.5 C341.9,375.4 343.6,375.3 345.2,375.2 C346.9,375.1 348.6,375.0 350.2,374.9 C351.9,374.8 353.6,374.7 355.3,374.6 C356.9,374.5 358.6,374.4 360.3,374.3 C362.0,374.2 363.6,374.0 365.3,373.9 C367.0,373.8 368.6,373.7 370.3,373.6 C372.0,373.5 373.7,373.4 375.3,373.3 C377.0,373.2 378.7,373.1 380.4,373.0 C382.0,372.9 383.7,372.7 385.4,372.6 C387.1,372.5 388.7,372.4 390.4,372.3 C392.1,372.2 393.7,372.1 395.4,372.0 C397.1,371.9 398.8,371.8 400.4,371.7 C402.1,371.6 403.8,371.5 405.5,371.4 C407.1,371.3 408.8,371.2 410.5,371.1 C412.1,371.0 413.8,370.9 415.5,370.8 C417.2,370.7 418.8,370.6 420.5,370.5 C422.2,370.4 423.9,370.3 425.5,370.2 C427.2,370.1 428.9,370.0 430.6,370.0 C432.2,369.9 433.9,369.8 435.6,369.7 C437.2,369.6 438.9,369.5 440.6,369.5 C442.3,369.4 443.9,369.3 445.6,369.3 C447.3,369.2 449.0,369.1 450.6,369.0 C452.3,369.0 454.0,368.9 455.6,368.9 C457.3,368.8 459.0,368.7 460.7,368.7 C462.3,368.6 464.0,368.6 465.7,368.5 C467.4,368.5 469.0,368.4 470.7,368.4 C472.4,368.4 474.1,368.3 475.7,368.3 C477.4,368.3 479.1,368.2 480.7,368.2 C482.4,368.2 484.1,368.2 485.8,368.1 C487.4,368.1 489.1,368.1 490.8,368.1 C492.5,368.1 495.0,368.1 495.8,368.1" class="purple"/>
<path d="M108.40,367.60 L130.00,367.60 L130.0,367.6 C130.8,368.9 133.3,372.8 135.0,375.2 C136.7,377.6 138.4,379.9 140.0,382.1 C141.7,384.3 143.4,386.4 145.0,388.5 C146.7,390.5 148.4,392.4 150.0,394.3 C151.7,396.1 153.4,397.9 155.1,399.6 C156.7,401.3 158.4,402.9 160.1,404.5 C161.7,406.0 163.4,407.5 165.1,409.0 C166.7,410.4 168.4,411.8 170.1,413.1 C171.8,414.4 173.4,415.7 175.1,416.9 C176.8,418.1 178.4,419.3 180.1,420.4 C181.8,421.5 183.5,422.6 185.1,423.7 C186.8,424.7 188.5,425.7 190.1,426.7 C191.8,427.6 193.5,428.6 195.1,429.5 C196.8,430.4 198.5,431.2 200.2,432.1 C201.8,432.9 203.5,433.8 205.2,434.6 C206.8,435.3 208.5,436.1 210.2,436.9 C211.8,437.6 213.5,438.3 215.2,439.0 C216.9,439.7 218.5,440.4 220.2,441.0 C221.9,441.6 223.5,442.2 225.2,442.8 C226.9,443.4 228.5,444.0 230.2,444.5 C231.9,445.0 233.6,445.5 235.2,446.0 C236.9,446.5 238.6,446.9 240.2,447.3 C241.9,447.7 243.6,448.1 245.3,448.5 C246.9,448.8 248.6,449.2 250.3,449.5 C251.9,449.8 253.6,450.0 255.3,450.3 C256.9,450.5 258.6,450.7 260.3,450.9 C262.0,451.1 263.6,451.2 265.3,451.3 C267.0,451.4 268.6,451.5 270.3,451.6 C272.0,451.6 273.6,451.7 275.3,451.6 C277.0,451.6 278.7,451.6 280.3,451.5 C282.0,451.4 283.7,451.3 285.3,451.2 C287.0,451.1 288.7,450.9 290.4,450.7 C292.0,450.5 293.7,450.2 295.4,450.0 C297.0,449.7 298.7,449.4 300.4,449.1 C302.0,448.7 303.7,448.3 305.4,447.9 C307.1,447.5 308.7,447.1 310.4,446.6 C312.1,446.1 313.7,445.6 315.4,445.1 C317.1,444.5 318.7,444.0 320.4,443.4 C322.1,442.8 323.8,442.1 325.4,441.5 C327.1,440.8 328.8,440.2 330.4,439.5 C332.1,438.8 333.8,438.1 335.4,437.3 C337.1,436.6 338.8,435.8 340.5,435.0 C342.1,434.2 343.8,433.4 345.5,432.6 C347.1,431.8 348.8,431.0 350.5,430.2 C352.2,429.3 353.8,428.5 355.5,427.6 C357.2,426.7 358.8,425.8 360.5,425.0 C362.2,424.1 363.8,423.2 365.5,422.3 C367.2,421.4 368.9,420.5 370.5,419.6 C372.2,418.7 373.9,417.8 375.5,416.8 C377.2,415.9 378.9,415.0 380.5,414.1 C382.2,413.2 383.9,412.3 385.6,411.4 C387.2,410.5 388.9,409.6 390.6,408.7 C392.2,407.8 393.9,406.9 395.6,406.0 C397.3,405.1 398.9,404.3 400.6,403.4 C402.3,402.6 403.9,401.7 405.6,400.9 C407.3,400.0 408.9,399.2 410.6,398.4 C412.3,397.6 414.0,396.8 415.6,396.1 C417.3,395.3 419.0,394.5 420.6,393.8 C422.3,393.1 424.0,392.3 425.6,391.6 C427.3,390.9 429.0,390.3 430.7,389.6 C432.3,388.9 434.0,388.3 435.7,387.6 C437.3,387.0 439.0,386.4 440.7,385.8 C442.3,385.2 444.0,384.6 445.7,384.0 C447.4,383.5 449.0,382.9 450.7,382.4 C452.4,381.9 454.0,381.4 455.7,380.9 C457.4,380.4 459.1,379.9 460.7,379.4 C462.4,379.0 464.1,378.6 465.7,378.1 C467.4,377.7 469.1,377.3 470.7,376.9 C472.4,376.6 474.1,376.2 475.8,375.9 C477.4,375.5 479.1,375.2 480.8,374.9 C482.4,374.6 484.1,374.3 485.8,374.0 C487.4,373.8 489.1,373.5 490.8,373.3 C492.5,373.1 495.0,372.8 495.8,372.7" class="green"/>
<rect x="108.20" y="353.20" width="387.70" height="196.50" class="fr"/>
<line x1="352.10" y1="452.00" x2="401.90" y2="452.00" class="blue lg"/>
<line x1="352.10" y1="484.50" x2="401.90" y2="484.50" class="purple lg"/>
<line x1="352.10" y1="518.60" x2="401.90" y2="518.60" class="green lg"/>
<line x1="680.82" y1="549.70" x2="680.82" y2="535.70" class="ax"/>
<line x1="745.43" y1="549.70" x2="745.43" y2="535.70" class="ax"/>
<line x1="810.05" y1="549.70" x2="810.05" y2="535.70" class="ax"/>
<line x1="874.67" y1="549.70" x2="874.67" y2="535.70" class="ax"/>
<line x1="939.28" y1="549.70" x2="939.28" y2="535.70" class="ax"/>
<line x1="616.20" y1="380.80" x2="631.20" y2="380.80" class="ax"/>
<line x1="616.20" y1="521.80" x2="631.20" y2="521.80" class="ax"/>
<path d="M616.30,378.40 L637.30,378.60 L637.3,378.6 C638.1,381.1 640.6,388.7 642.3,393.6 C644.0,398.4 645.7,403.2 647.3,407.7 C649.0,412.3 650.7,416.8 652.4,421.1 C654.0,425.4 655.7,429.6 657.4,433.6 C659.0,437.7 660.7,441.6 662.4,445.4 C664.1,449.1 665.7,452.8 667.4,456.3 C669.1,459.8 670.8,463.2 672.4,466.5 C674.1,469.7 675.8,472.9 677.5,475.9 C679.1,478.9 680.8,481.7 682.5,484.5 C684.1,487.2 685.8,489.9 687.5,492.4 C689.2,494.9 690.8,497.2 692.5,499.5 C694.2,501.7 695.9,503.9 697.5,505.9 C699.2,507.9 700.9,509.8 702.5,511.5 C704.2,513.3 705.9,514.9 707.6,516.5 C709.2,518.0 710.9,519.4 712.6,520.7 C714.3,522.0 715.9,523.1 717.6,524.2 C719.3,525.2 721.0,526.2 722.6,527.0 C724.3,527.8 726.0,528.5 727.6,529.1 C729.3,529.7 731.0,530.2 732.7,530.6 C734.3,530.9 736.0,531.2 737.7,531.4 C739.4,531.5 741.0,531.6 742.7,531.5 C744.4,531.5 746.0,531.3 747.7,531.1 C749.4,530.8 751.1,530.5 752.7,530.0 C754.4,529.6 756.1,529.0 757.8,528.4 C759.4,527.7 761.1,527.0 762.8,526.2 C764.5,525.3 766.1,524.4 767.8,523.4 C769.5,522.4 771.1,521.3 772.8,520.1 C774.5,518.9 776.2,517.6 777.8,516.2 C779.5,514.8 781.2,513.4 782.9,511.9 C784.5,510.3 786.2,508.7 787.9,507.0 C789.5,505.3 791.2,503.5 792.9,501.7 C794.6,499.8 796.2,497.9 797.9,495.9 C799.6,493.8 801.3,491.8 802.9,489.6 C804.6,487.4 806.3,485.2 808.0,482.9 C809.6,480.6 811.3,478.2 813.0,475.8 C814.6,473.4 816.3,470.9 818.0,468.4 C819.7,465.9 821.3,463.4 823.0,460.9 C824.7,458.4 826.4,455.9 828.0,453.5 C829.7,451.1 831.4,448.7 833.0,446.4 C834.7,444.1 836.4,441.9 838.1,439.8 C839.7,437.7 841.4,435.6 843.1,433.7 C844.8,431.8 846.4,429.9 848.1,428.1 C849.8,426.3 851.5,424.6 853.1,423.0 C854.8,421.4 856.5,419.8 858.1,418.3 C859.8,416.9 861.5,415.4 863.2,414.1 C864.8,412.7 866.5,411.4 868.2,410.1 C869.9,408.9 871.5,407.7 873.2,406.6 C874.9,405.4 876.5,404.3 878.2,403.3 C879.9,402.3 881.6,401.3 883.2,400.3 C884.9,399.4 886.6,398.5 888.3,397.6 C889.9,396.8 891.6,395.9 893.3,395.2 C895.0,394.4 896.6,393.7 898.3,392.9 C900.0,392.2 901.6,391.6 903.3,390.9 C905.0,390.3 906.7,389.7 908.3,389.1 C910.0,388.5 911.7,388.0 913.4,387.5 C915.0,387.0 916.7,386.5 918.4,386.0 C920.0,385.5 921.7,385.1 923.4,384.7 C925.1,384.3 926.7,383.9 928.4,383.6 C930.1,383.2 931.8,382.9 933.4,382.6 C935.1,382.3 936.8,382.0 938.5,381.7 C940.1,381.4 941.8,381.2 943.5,381.0 C945.1,380.8 946.8,380.5 948.5,380.4 C950.2,380.2 951.8,380.0 953.5,379.8 C955.2,379.7 956.9,379.6 958.5,379.4 C960.2,379.3 961.9,379.2 963.5,379.1 C965.2,379.0 966.9,378.9 968.6,378.9 C970.2,378.8 971.9,378.7 973.6,378.7 C975.3,378.6 976.9,378.6 978.6,378.5 C980.3,378.5 982.0,378.5 983.6,378.5 C985.3,378.4 987.0,378.4 988.6,378.4 C990.3,378.4 992.0,378.4 993.7,378.4 C995.3,378.4 997.0,378.4 998.7,378.4 C1000.4,378.4 1002.9,378.4 1003.7,378.4" class="blue" style="stroke-width:2.4"/>
<path d="M616.30,378.40 L637.30,378.60 L637.3,378.6 C638.1,379.2 640.6,381.1 642.3,382.2 C644.0,383.4 645.7,384.5 647.3,385.6 C649.0,386.6 650.7,387.7 652.4,388.6 C654.0,389.6 655.7,390.6 657.4,391.5 C659.0,392.4 660.7,393.2 662.4,394.0 C664.1,394.8 665.7,395.6 667.4,396.4 C669.1,397.1 670.8,397.8 672.4,398.5 C674.1,399.1 675.8,399.7 677.5,400.3 C679.1,400.9 680.8,401.5 682.5,402.0 C684.1,402.5 685.8,403.0 687.5,403.5 C689.2,403.9 690.8,404.3 692.5,404.7 C694.2,405.1 695.9,405.5 697.5,405.8 C699.2,406.1 700.9,406.4 702.5,406.7 C704.2,407.0 705.9,407.2 707.6,407.4 C709.2,407.7 710.9,407.9 712.6,408.0 C714.3,408.2 715.9,408.3 717.6,408.5 C719.3,408.6 721.0,408.7 722.6,408.7 C724.3,408.8 726.0,408.9 727.6,408.9 C729.3,408.9 731.0,409.0 732.7,409.0 C734.3,409.0 736.0,408.9 737.7,408.9 C739.4,408.9 741.0,408.8 742.7,408.7 C744.4,408.7 746.0,408.6 747.7,408.5 C749.4,408.4 751.1,408.2 752.7,408.1 C754.4,408.0 756.1,407.8 757.8,407.6 C759.4,407.5 761.1,407.3 762.8,407.1 C764.5,406.9 766.1,406.7 767.8,406.5 C769.5,406.3 771.1,406.1 772.8,405.8 C774.5,405.6 776.2,405.3 777.8,405.1 C779.5,404.8 781.2,404.5 782.9,404.3 C784.5,404.0 786.2,403.7 787.9,403.4 C789.5,403.1 791.2,402.8 792.9,402.4 C794.6,402.1 796.2,401.8 797.9,401.5 C799.6,401.1 801.3,400.8 802.9,400.5 C804.6,400.1 806.3,399.8 808.0,399.4 C809.6,399.0 811.3,398.7 813.0,398.3 C814.6,397.9 816.3,397.6 818.0,397.2 C819.7,396.8 821.3,396.5 823.0,396.1 C824.7,395.7 826.4,395.4 828.0,395.0 C829.7,394.7 831.4,394.3 833.0,393.9 C834.7,393.6 836.4,393.2 838.1,392.9 C839.7,392.5 841.4,392.2 843.1,391.8 C844.8,391.5 846.4,391.2 848.1,390.8 C849.8,390.5 851.5,390.2 853.1,389.9 C854.8,389.5 856.5,389.2 858.1,388.9 C859.8,388.6 861.5,388.3 863.2,388.0 C864.8,387.7 866.5,387.4 868.2,387.1 C869.9,386.8 871.5,386.5 873.2,386.2 C874.9,386.0 876.5,385.7 878.2,385.4 C879.9,385.2 881.6,384.9 883.2,384.6 C884.9,384.4 886.6,384.1 888.3,383.9 C889.9,383.7 891.6,383.4 893.3,383.2 C895.0,383.0 896.6,382.8 898.3,382.6 C900.0,382.3 901.6,382.1 903.3,381.9 C905.0,381.8 906.7,381.6 908.3,381.4 C910.0,381.2 911.7,381.0 913.4,380.9 C915.0,380.7 916.7,380.6 918.4,380.4 C920.0,380.3 921.7,380.1 923.4,380.0 C925.1,379.9 926.7,379.8 928.4,379.7 C930.1,379.6 931.8,379.5 933.4,379.4 C935.1,379.3 936.8,379.2 938.5,379.1 C940.1,379.1 941.8,379.0 943.5,378.9 C945.1,378.9 946.8,378.9 948.5,378.8 C950.2,378.8 951.8,378.7 953.5,378.7 C955.2,378.7 956.9,378.7 958.5,378.7 C960.2,378.6 961.9,378.6 963.5,378.6 C965.2,378.6 966.9,378.6 968.6,378.6 C970.2,378.6 971.9,378.6 973.6,378.6 C975.3,378.6 976.9,378.6 978.6,378.6 C980.3,378.6 982.0,378.6 983.6,378.6 C985.3,378.6 987.0,378.6 988.6,378.6 C990.3,378.6 992.0,378.6 993.7,378.6 C995.3,378.5 997.0,378.5 998.7,378.5 C1000.4,378.5 1002.9,378.4 1003.7,378.4" class="purple"/>
<path d="M616.30,378.40 L637.30,378.60 L637.3,378.6 C638.1,379.8 640.6,383.7 642.3,386.0 C644.0,388.3 645.7,390.4 647.3,392.5 C649.0,394.5 650.7,396.4 652.4,398.2 C654.0,399.9 655.7,401.6 657.4,403.2 C659.0,404.7 660.7,406.2 662.4,407.6 C664.1,409.0 665.7,410.3 667.4,411.5 C669.1,412.7 670.8,413.9 672.4,415.0 C674.1,416.1 675.8,417.2 677.5,418.2 C679.1,419.2 680.8,420.1 682.5,421.0 C684.1,421.9 685.8,422.8 687.5,423.6 C689.2,424.4 690.8,425.1 692.5,425.8 C694.2,426.5 695.9,427.2 697.5,427.8 C699.2,428.4 700.9,428.9 702.5,429.5 C704.2,430.0 705.9,430.5 707.6,430.9 C709.2,431.3 710.9,431.7 712.6,432.0 C714.3,432.4 715.9,432.7 717.6,432.9 C719.3,433.2 721.0,433.4 722.6,433.6 C724.3,433.8 726.0,433.9 727.6,434.0 C729.3,434.1 731.0,434.2 732.7,434.2 C734.3,434.2 736.0,434.2 737.7,434.2 C739.4,434.1 741.0,434.0 742.7,433.9 C744.4,433.8 746.0,433.7 747.7,433.5 C749.4,433.3 751.1,433.1 752.7,432.9 C754.4,432.7 756.1,432.4 757.8,432.1 C759.4,431.8 761.1,431.5 762.8,431.2 C764.5,430.8 766.1,430.5 767.8,430.1 C769.5,429.7 771.1,429.3 772.8,428.8 C774.5,428.4 776.2,427.9 777.8,427.5 C779.5,427.0 781.2,426.5 782.9,426.0 C784.5,425.4 786.2,424.9 787.9,424.4 C789.5,423.8 791.2,423.2 792.9,422.7 C794.6,422.1 796.2,421.5 797.9,420.9 C799.6,420.3 801.3,419.6 802.9,419.0 C804.6,418.4 806.3,417.7 808.0,417.1 C809.6,416.4 811.3,415.8 813.0,415.1 C814.6,414.4 816.3,413.7 818.0,413.0 C819.7,412.4 821.3,411.7 823.0,411.0 C824.7,410.3 826.4,409.6 828.0,408.9 C829.7,408.2 831.4,407.5 833.0,406.8 C834.7,406.1 836.4,405.4 838.1,404.7 C839.7,404.0 841.4,403.3 843.1,402.6 C844.8,401.9 846.4,401.2 848.1,400.6 C849.8,399.9 851.5,399.2 853.1,398.6 C854.8,397.9 856.5,397.3 858.1,396.7 C859.8,396.0 861.5,395.4 863.2,394.8 C864.8,394.2 866.5,393.6 868.2,393.1 C869.9,392.5 871.5,391.9 873.2,391.4 C874.9,390.9 876.5,390.4 878.2,389.9 C879.9,389.4 881.6,388.9 883.2,388.5 C884.9,388.0 886.6,387.6 888.3,387.2 C889.9,386.8 891.6,386.5 893.3,386.1 C895.0,385.8 896.6,385.5 898.3,385.2 C900.0,384.9 901.6,384.6 903.3,384.4 C905.0,384.1 906.7,383.9 908.3,383.7 C910.0,383.5 911.7,383.3 913.4,383.1 C915.0,382.9 916.7,382.7 918.4,382.5 C920.0,382.4 921.7,382.2 923.4,382.1 C925.1,381.9 926.7,381.8 928.4,381.6 C930.1,381.5 931.8,381.4 933.4,381.2 C935.1,381.1 936.8,381.0 938.5,380.9 C940.1,380.7 941.8,380.6 943.5,380.5 C945.1,380.4 946.8,380.3 948.5,380.2 C950.2,380.1 951.8,380.0 953.5,379.9 C955.2,379.8 956.9,379.7 958.5,379.6 C960.2,379.5 961.9,379.4 963.5,379.3 C965.2,379.2 966.9,379.2 968.6,379.1 C970.2,379.0 971.9,378.9 973.6,378.9 C975.3,378.8 976.9,378.8 978.6,378.7 C980.3,378.7 982.0,378.6 983.6,378.6 C985.3,378.5 987.0,378.5 988.6,378.5 C990.3,378.5 992.0,378.4 993.7,378.4 C995.3,378.4 997.0,378.4 998.7,378.4 C1000.4,378.4 1002.9,378.4 1003.7,378.4" class="green"/>
<rect x="616.20" y="353.00" width="387.70" height="196.70" class="fr"/>
<line x1="858.30" y1="452.10" x2="907.70" y2="452.10" class="blue lg"/>
<line x1="858.30" y1="484.10" x2="907.70" y2="484.10" class="purple lg"/>
<line x1="858.30" y1="518.30" x2="907.70" y2="518.30" class="green lg"/>
<line x1="172.85" y1="887.80" x2="172.85" y2="873.80" class="ax"/>
<line x1="237.50" y1="887.80" x2="237.50" y2="873.80" class="ax"/>
<line x1="302.15" y1="887.80" x2="302.15" y2="873.80" class="ax"/>
<line x1="366.80" y1="887.80" x2="366.80" y2="873.80" class="ax"/>
<line x1="431.45" y1="887.80" x2="431.45" y2="873.80" class="ax"/>
<line x1="108.20" y1="830.70" x2="123.20" y2="830.70" class="ax"/>
<path d="M108.60,723.70 L128.00,723.70 L128.0,723.7 C128.8,723.9 131.4,724.6 133.0,725.0 C134.7,725.4 136.4,725.8 138.1,726.2 C139.8,726.5 141.4,726.9 143.1,727.3 C144.8,727.6 146.5,728.0 148.2,728.3 C149.9,728.6 151.5,728.9 153.2,729.2 C154.9,729.5 156.6,729.8 158.3,730.1 C159.9,730.4 161.6,730.6 163.3,730.9 C165.0,731.1 166.7,731.4 168.3,731.6 C170.0,731.8 171.7,732.1 173.4,732.3 C175.1,732.5 176.7,732.7 178.4,732.9 C180.1,733.1 181.8,733.2 183.5,733.4 C185.1,733.6 186.8,733.7 188.5,733.9 C190.2,734.0 191.9,734.1 193.6,734.3 C195.2,734.4 196.9,734.5 198.6,734.6 C200.3,734.7 202.0,734.8 203.6,734.9 C205.3,735.0 207.0,735.1 208.7,735.1 C210.4,735.2 212.0,735.3 213.7,735.3 C215.4,735.4 217.1,735.4 218.8,735.5 C220.4,735.5 222.1,735.5 223.8,735.6 C225.5,735.6 227.2,735.6 228.8,735.6 C230.5,735.6 232.2,735.6 233.9,735.6 C235.6,735.6 237.3,735.6 238.9,735.6 C240.6,735.6 242.3,735.5 244.0,735.5 C245.7,735.5 247.3,735.4 249.0,735.4 C250.7,735.4 252.4,735.3 254.1,735.3 C255.7,735.2 257.4,735.1 259.1,735.1 C260.8,735.0 262.5,735.0 264.1,734.9 C265.8,734.8 267.5,734.7 269.2,734.7 C270.9,734.6 272.6,734.5 274.2,734.4 C275.9,734.3 277.6,734.2 279.3,734.1 C281.0,734.0 282.6,733.9 284.3,733.8 C286.0,733.7 287.7,733.6 289.4,733.5 C291.0,733.4 292.7,733.3 294.4,733.2 C296.1,733.1 297.8,733.0 299.4,732.9 C301.1,732.8 302.8,732.6 304.5,732.5 C306.2,732.4 307.8,732.3 309.5,732.2 C311.2,732.0 312.9,731.9 314.6,731.8 C316.3,731.7 317.9,731.5 319.6,731.4 C321.3,731.3 323.0,731.2 324.7,731.0 C326.3,730.9 328.0,730.8 329.7,730.7 C331.4,730.5 333.1,730.4 334.7,730.3 C336.4,730.1 338.1,730.0 339.8,729.9 C341.5,729.7 343.1,729.6 344.8,729.5 C346.5,729.4 348.2,729.2 349.9,729.1 C351.5,729.0 353.2,728.8 354.9,728.7 C356.6,728.6 358.3,728.4 360.0,728.3 C361.6,728.2 363.3,728.1 365.0,727.9 C366.7,727.8 368.4,727.7 370.0,727.6 C371.7,727.4 373.4,727.3 375.1,727.2 C376.8,727.1 378.4,726.9 380.1,726.8 C381.8,726.7 383.5,726.6 385.2,726.5 C386.8,726.3 388.5,726.2 390.2,726.1 C391.9,726.0 393.6,725.9 395.3,725.8 C396.9,725.7 398.6,725.6 400.3,725.5 C402.0,725.4 403.7,725.2 405.3,725.1 C407.0,725.0 408.7,724.9 410.4,724.9 C412.1,724.8 413.7,724.7 415.4,724.6 C417.1,724.5 418.8,724.4 420.5,724.3 C422.1,724.2 423.8,724.1 425.5,724.1 C427.2,724.0 428.9,723.9 430.5,723.8 C432.2,723.8 433.9,723.7 435.6,723.6 C437.3,723.6 439.0,723.5 440.6,723.4 C442.3,723.4 444.0,723.3 445.7,723.3 C447.4,723.2 449.0,723.2 450.7,723.1 C452.4,723.1 454.1,723.1 455.8,723.0 C457.4,723.0 459.1,723.0 460.8,723.0 C462.5,722.9 464.2,722.9 465.8,722.9 C467.5,722.9 469.2,722.9 470.9,722.9 C472.6,722.9 474.2,722.9 475.9,722.9 C477.6,722.9 479.3,722.9 481.0,722.9 C482.7,722.9 484.3,722.9 486.0,723.0 C487.7,723.0 489.4,723.0 491.1,723.1 C492.7,723.1 495.3,723.2 496.1,723.2" class="blue"/>
<path d="M108.60,723.70 L128.00,723.70 L128.0,723.7 C128.8,723.9 131.4,724.6 133.0,725.0 C134.7,725.4 136.4,725.8 138.1,726.2 C139.8,726.5 141.4,726.9 143.1,727.3 C144.8,727.6 146.5,728.0 148.2,728.3 C149.9,728.6 151.5,728.9 153.2,729.2 C154.9,729.5 156.6,729.8 158.3,730.1 C159.9,730.4 161.6,730.6 163.3,730.9 C165.0,731.1 166.7,731.4 168.3,731.6 C170.0,731.8 171.7,732.1 173.4,732.3 C175.1,732.5 176.7,732.7 178.4,732.9 C180.1,733.1 181.8,733.2 183.5,733.4 C185.1,733.6 186.8,733.7 188.5,733.9 C190.2,734.0 191.9,734.1 193.6,734.3 C195.2,734.4 196.9,734.5 198.6,734.6 C200.3,734.7 202.0,734.8 203.6,734.9 C205.3,735.0 207.0,735.1 208.7,735.1 C210.4,735.2 212.0,735.3 213.7,735.3 C215.4,735.4 217.1,735.4 218.8,735.5 C220.4,735.5 222.1,735.5 223.8,735.6 C225.5,735.6 227.2,735.6 228.8,735.6 C230.5,735.6 232.2,735.6 233.9,735.6 C235.6,735.6 237.3,735.6 238.9,735.6 C240.6,735.6 242.3,735.5 244.0,735.5 C245.7,735.5 247.3,735.4 249.0,735.4 C250.7,735.4 252.4,735.3 254.1,735.3 C255.7,735.2 257.4,735.1 259.1,735.1 C260.8,735.0 262.5,735.0 264.1,734.9 C265.8,734.8 267.5,734.7 269.2,734.7 C270.9,734.6 272.6,734.5 274.2,734.4 C275.9,734.3 277.6,734.2 279.3,734.1 C281.0,734.0 282.6,733.9 284.3,733.8 C286.0,733.7 287.7,733.6 289.4,733.5 C291.0,733.4 292.7,733.3 294.4,733.2 C296.1,733.1 297.8,733.0 299.4,732.9 C301.1,732.8 302.8,732.6 304.5,732.5 C306.2,732.4 307.8,732.3 309.5,732.2 C311.2,732.0 312.9,731.9 314.6,731.8 C316.3,731.7 317.9,731.5 319.6,731.4 C321.3,731.3 323.0,731.2 324.7,731.0 C326.3,730.9 328.0,730.8 329.7,730.7 C331.4,730.5 333.1,730.4 334.7,730.3 C336.4,730.1 338.1,730.0 339.8,729.9 C341.5,729.7 343.1,729.6 344.8,729.5 C346.5,729.4 348.2,729.2 349.9,729.1 C351.5,729.0 353.2,728.8 354.9,728.7 C356.6,728.6 358.3,728.4 360.0,728.3 C361.6,728.2 363.3,728.1 365.0,727.9 C366.7,727.8 368.4,727.7 370.0,727.6 C371.7,727.4 373.4,727.3 375.1,727.2 C376.8,727.1 378.4,726.9 380.1,726.8 C381.8,726.7 383.5,726.6 385.2,726.5 C386.8,726.3 388.5,726.2 390.2,726.1 C391.9,726.0 393.6,725.9 395.3,725.8 C396.9,725.7 398.6,725.6 400.3,725.5 C402.0,725.4 403.7,725.2 405.3,725.1 C407.0,725.0 408.7,724.9 410.4,724.9 C412.1,724.8 413.7,724.7 415.4,724.6 C417.1,724.5 418.8,724.4 420.5,724.3 C422.1,724.2 423.8,724.1 425.5,724.1 C427.2,724.0 428.9,723.9 430.5,723.8 C432.2,723.8 433.9,723.7 435.6,723.6 C437.3,723.6 439.0,723.5 440.6,723.4 C442.3,723.4 444.0,723.3 445.7,723.3 C447.4,723.2 449.0,723.2 450.7,723.1 C452.4,723.1 454.1,723.1 455.8,723.0 C457.4,723.0 459.1,723.0 460.8,723.0 C462.5,722.9 464.2,722.9 465.8,722.9 C467.5,722.9 469.2,722.9 470.9,722.9 C472.6,722.9 474.2,722.9 475.9,722.9 C477.6,722.9 479.3,722.9 481.0,722.9 C482.7,722.9 484.3,722.9 486.0,723.0 C487.7,723.0 489.4,723.0 491.1,723.1 C492.7,723.1 495.3,723.2 496.1,723.2" class="purple"/>
<path d="M108.60,723.70 L129.00,723.90 L129.0,723.9 C129.8,726.0 132.4,732.2 134.0,736.6 C135.7,740.9 137.4,745.7 139.1,750.0 C140.7,754.3 142.4,758.4 144.1,762.3 C145.8,766.2 147.4,769.7 149.1,773.2 C150.8,776.7 152.5,779.9 154.1,783.0 C155.8,786.1 157.5,789.0 159.2,791.8 C160.8,794.6 162.5,797.2 164.2,799.7 C165.9,802.2 167.6,804.5 169.2,806.7 C170.9,809.0 172.6,811.1 174.3,813.1 C175.9,815.1 177.6,817.0 179.3,818.8 C181.0,820.6 182.6,822.4 184.3,824.0 C186.0,825.7 187.7,827.2 189.3,828.8 C191.0,830.3 192.7,831.7 194.4,833.1 C196.1,834.5 197.7,835.8 199.4,837.1 C201.1,838.4 202.8,839.6 204.4,840.7 C206.1,841.9 207.8,843.0 209.5,844.0 C211.1,845.0 212.8,846.0 214.5,846.9 C216.2,847.8 217.8,848.6 219.5,849.4 C221.2,850.2 222.9,850.9 224.5,851.5 C226.2,852.2 227.9,852.8 229.6,853.3 C231.3,853.8 232.9,854.3 234.6,854.7 C236.3,855.1 238.0,855.4 239.6,855.7 C241.3,856.0 243.0,856.2 244.7,856.4 C246.3,856.5 248.0,856.6 249.7,856.6 C251.4,856.7 253.0,856.6 254.7,856.6 C256.4,856.5 258.1,856.3 259.7,856.1 C261.4,855.9 263.1,855.6 264.8,855.3 C266.5,854.9 268.1,854.5 269.8,854.1 C271.5,853.6 273.2,853.1 274.8,852.5 C276.5,851.9 278.2,851.3 279.9,850.5 C281.5,849.8 283.2,849.1 284.9,848.2 C286.6,847.4 288.2,846.5 289.9,845.5 C291.6,844.6 293.3,843.6 294.9,842.5 C296.6,841.4 298.3,840.3 300.0,839.1 C301.7,837.9 303.3,836.7 305.0,835.4 C306.7,834.1 308.4,832.8 310.0,831.4 C311.7,830.1 313.4,828.7 315.1,827.3 C316.7,825.8 318.4,824.4 320.1,822.9 C321.8,821.4 323.4,819.9 325.1,818.4 C326.8,816.9 328.5,815.3 330.2,813.7 C331.8,812.2 333.5,810.6 335.2,809.0 C336.9,807.5 338.5,805.9 340.2,804.3 C341.9,802.7 343.6,801.1 345.2,799.6 C346.9,798.0 348.6,796.4 350.3,794.9 C351.9,793.3 353.6,791.7 355.3,790.2 C357.0,788.7 358.6,787.1 360.3,785.6 C362.0,784.1 363.7,782.6 365.4,781.1 C367.0,779.6 368.7,778.2 370.4,776.7 C372.1,775.3 373.7,773.9 375.4,772.5 C377.1,771.1 378.8,769.7 380.4,768.4 C382.1,767.1 383.8,765.7 385.5,764.5 C387.1,763.2 388.8,762.0 390.5,760.7 C392.2,759.5 393.8,758.4 395.5,757.2 C397.2,756.1 398.9,755.0 400.6,754.0 C402.2,752.9 403.9,751.9 405.6,750.9 C407.3,749.9 408.9,749.0 410.6,748.0 C412.3,747.1 414.0,746.2 415.6,745.4 C417.3,744.5 419.0,743.7 420.7,742.9 C422.3,742.1 424.0,741.4 425.7,740.7 C427.4,740.0 429.0,739.3 430.7,738.6 C432.4,737.9 434.1,737.3 435.8,736.7 C437.4,736.1 439.1,735.5 440.8,735.0 C442.5,734.4 444.1,733.9 445.8,733.4 C447.5,732.9 449.2,732.4 450.8,732.0 C452.5,731.5 454.2,731.1 455.9,730.7 C457.5,730.3 459.2,730.0 460.9,729.6 C462.6,729.3 464.3,728.9 465.9,728.6 C467.6,728.3 469.3,728.0 471.0,727.8 C472.6,727.5 474.3,727.3 476.0,727.0 C477.7,726.8 479.3,726.6 481.0,726.4 C482.7,726.2 484.4,726.1 486.0,725.9 C487.7,725.8 489.4,725.6 491.1,725.5 C492.7,725.4 495.3,725.3 496.1,725.2" class="green"/>
<rect x="108.20" y="690.00" width="387.90" height="197.80" class="fr"/>
<line x1="362.00" y1="792.00" x2="402.00" y2="792.00" class="blue lg2"/>
<line x1="362.00" y1="825.00" x2="402.00" y2="825.00" class="purple lg2"/>
<line x1="362.00" y1="859.40" x2="402.00" y2="859.40" class="green lg2"/>
<line x1="680.88" y1="887.60" x2="680.88" y2="873.60" class="ax"/>
<line x1="745.57" y1="887.60" x2="745.57" y2="873.60" class="ax"/>
<line x1="810.25" y1="887.60" x2="810.25" y2="873.60" class="ax"/>
<line x1="874.93" y1="887.60" x2="874.93" y2="873.60" class="ax"/>
<line x1="939.62" y1="887.60" x2="939.62" y2="873.60" class="ax"/>
<path d="M616.00,741.50 L636.90,741.50 L636.9,741.5 C637.7,741.8 640.3,742.8 641.9,743.4 C643.6,744.0 645.3,744.6 647.0,745.2 C648.7,745.7 650.3,746.2 652.0,746.7 C653.7,747.2 655.4,747.7 657.0,748.1 C658.7,748.6 660.4,749.0 662.1,749.4 C663.8,749.8 665.4,750.1 667.1,750.5 C668.8,750.8 670.5,751.1 672.2,751.4 C673.8,751.7 675.5,752.0 677.2,752.2 C678.9,752.5 680.6,752.7 682.2,752.9 C683.9,753.1 685.6,753.3 687.3,753.5 C688.9,753.6 690.6,753.8 692.3,753.9 C694.0,754.1 695.7,754.2 697.3,754.3 C699.0,754.4 700.7,754.5 702.4,754.5 C704.1,754.6 705.7,754.7 707.4,754.7 C709.1,754.7 710.8,754.8 712.5,754.8 C714.1,754.8 715.8,754.8 717.5,754.8 C719.2,754.8 720.8,754.7 722.5,754.7 C724.2,754.7 725.9,754.6 727.6,754.6 C729.2,754.5 730.9,754.5 732.6,754.4 C734.3,754.3 736.0,754.2 737.6,754.1 C739.3,754.1 741.0,754.0 742.7,753.9 C744.4,753.7 746.0,753.6 747.7,753.5 C749.4,753.4 751.1,753.3 752.8,753.1 C754.4,753.0 756.1,752.9 757.8,752.7 C759.5,752.6 761.1,752.4 762.8,752.3 C764.5,752.1 766.2,752.0 767.9,751.8 C769.5,751.7 771.2,751.5 772.9,751.3 C774.6,751.2 776.3,751.0 777.9,750.8 C779.6,750.7 781.3,750.5 783.0,750.3 C784.7,750.2 786.3,750.0 788.0,749.8 C789.7,749.6 791.4,749.5 793.0,749.3 C794.7,749.1 796.4,749.0 798.1,748.8 C799.8,748.6 801.4,748.4 803.1,748.3 C804.8,748.1 806.5,747.9 808.2,747.8 C809.8,747.6 811.5,747.5 813.2,747.3 C814.9,747.2 816.6,747.0 818.2,746.9 C819.9,746.7 821.6,746.6 823.3,746.4 C824.9,746.3 826.6,746.2 828.3,746.0 C830.0,745.9 831.7,745.8 833.3,745.6 C835.0,745.5 836.7,745.4 838.4,745.2 C840.1,745.1 841.7,745.0 843.4,744.9 C845.1,744.8 846.8,744.7 848.5,744.6 C850.1,744.4 851.8,744.3 853.5,744.2 C855.2,744.1 856.8,744.0 858.5,743.9 C860.2,743.8 861.9,743.7 863.6,743.6 C865.2,743.6 866.9,743.5 868.6,743.4 C870.3,743.3 872.0,743.2 873.6,743.1 C875.3,743.0 877.0,743.0 878.7,742.9 C880.4,742.8 882.0,742.7 883.7,742.7 C885.4,742.6 887.1,742.5 888.7,742.5 C890.4,742.4 892.1,742.3 893.8,742.3 C895.5,742.2 897.1,742.2 898.8,742.1 C900.5,742.1 902.2,742.0 903.9,741.9 C905.5,741.9 907.2,741.9 908.9,741.8 C910.6,741.8 912.3,741.7 913.9,741.7 C915.6,741.6 917.3,741.6 919.0,741.6 C920.7,741.5 922.3,741.5 924.0,741.5 C925.7,741.4 927.4,741.4 929.0,741.4 C930.7,741.4 932.4,741.3 934.1,741.3 C935.8,741.3 937.4,741.3 939.1,741.2 C940.8,741.2 942.5,741.2 944.2,741.2 C945.8,741.2 947.5,741.2 949.2,741.2 C950.9,741.2 952.6,741.1 954.2,741.1 C955.9,741.1 957.6,741.1 959.3,741.1 C960.9,741.1 962.6,741.1 964.3,741.1 C966.0,741.1 967.7,741.1 969.3,741.1 C971.0,741.1 972.7,741.1 974.4,741.2 C976.1,741.2 977.7,741.2 979.4,741.2 C981.1,741.2 982.8,741.2 984.5,741.2 C986.1,741.2 987.8,741.3 989.5,741.3 C991.2,741.3 992.8,741.3 994.5,741.3 C996.2,741.4 997.9,741.4 999.6,741.4 C1001.2,741.4 1003.8,741.5 1004.6,741.5" class="blue"/>
<path d="M616.00,741.50 L636.90,741.50 L636.9,741.5 C637.7,741.8 640.3,742.8 641.9,743.4 C643.6,744.0 645.3,744.6 647.0,745.2 C648.7,745.7 650.3,746.2 652.0,746.7 C653.7,747.2 655.4,747.7 657.0,748.1 C658.7,748.6 660.4,749.0 662.1,749.4 C663.8,749.8 665.4,750.1 667.1,750.5 C668.8,750.8 670.5,751.1 672.2,751.4 C673.8,751.7 675.5,752.0 677.2,752.2 C678.9,752.5 680.6,752.7 682.2,752.9 C683.9,753.1 685.6,753.3 687.3,753.5 C688.9,753.6 690.6,753.8 692.3,753.9 C694.0,754.1 695.7,754.2 697.3,754.3 C699.0,754.4 700.7,754.5 702.4,754.5 C704.1,754.6 705.7,754.7 707.4,754.7 C709.1,754.7 710.8,754.8 712.5,754.8 C714.1,754.8 715.8,754.8 717.5,754.8 C719.2,754.8 720.8,754.7 722.5,754.7 C724.2,754.7 725.9,754.6 727.6,754.6 C729.2,754.5 730.9,754.5 732.6,754.4 C734.3,754.3 736.0,754.2 737.6,754.1 C739.3,754.1 741.0,754.0 742.7,753.9 C744.4,753.7 746.0,753.6 747.7,753.5 C749.4,753.4 751.1,753.3 752.8,753.1 C754.4,753.0 756.1,752.9 757.8,752.7 C759.5,752.6 761.1,752.4 762.8,752.3 C764.5,752.1 766.2,752.0 767.9,751.8 C769.5,751.7 771.2,751.5 772.9,751.3 C774.6,751.2 776.3,751.0 777.9,750.8 C779.6,750.7 781.3,750.5 783.0,750.3 C784.7,750.2 786.3,750.0 788.0,749.8 C789.7,749.6 791.4,749.5 793.0,749.3 C794.7,749.1 796.4,749.0 798.1,748.8 C799.8,748.6 801.4,748.4 803.1,748.3 C804.8,748.1 806.5,747.9 808.2,747.8 C809.8,747.6 811.5,747.5 813.2,747.3 C814.9,747.2 816.6,747.0 818.2,746.9 C819.9,746.7 821.6,746.6 823.3,746.4 C824.9,746.3 826.6,746.2 828.3,746.0 C830.0,745.9 831.7,745.8 833.3,745.6 C835.0,745.5 836.7,745.4 838.4,745.2 C840.1,745.1 841.7,745.0 843.4,744.9 C845.1,744.8 846.8,744.7 848.5,744.6 C850.1,744.4 851.8,744.3 853.5,744.2 C855.2,744.1 856.8,744.0 858.5,743.9 C860.2,743.8 861.9,743.7 863.6,743.6 C865.2,743.6 866.9,743.5 868.6,743.4 C870.3,743.3 872.0,743.2 873.6,743.1 C875.3,743.0 877.0,743.0 878.7,742.9 C880.4,742.8 882.0,742.7 883.7,742.7 C885.4,742.6 887.1,742.5 888.7,742.5 C890.4,742.4 892.1,742.3 893.8,742.3 C895.5,742.2 897.1,742.2 898.8,742.1 C900.5,742.1 902.2,742.0 903.9,741.9 C905.5,741.9 907.2,741.9 908.9,741.8 C910.6,741.8 912.3,741.7 913.9,741.7 C915.6,741.6 917.3,741.6 919.0,741.6 C920.7,741.5 922.3,741.5 924.0,741.5 C925.7,741.4 927.4,741.4 929.0,741.4 C930.7,741.4 932.4,741.3 934.1,741.3 C935.8,741.3 937.4,741.3 939.1,741.2 C940.8,741.2 942.5,741.2 944.2,741.2 C945.8,741.2 947.5,741.2 949.2,741.2 C950.9,741.2 952.6,741.1 954.2,741.1 C955.9,741.1 957.6,741.1 959.3,741.1 C960.9,741.1 962.6,741.1 964.3,741.1 C966.0,741.1 967.7,741.1 969.3,741.1 C971.0,741.1 972.7,741.1 974.4,741.2 C976.1,741.2 977.7,741.2 979.4,741.2 C981.1,741.2 982.8,741.2 984.5,741.2 C986.1,741.2 987.8,741.3 989.5,741.3 C991.2,741.3 992.8,741.3 994.5,741.3 C996.2,741.4 997.9,741.4 999.6,741.4 C1001.2,741.4 1003.8,741.5 1004.6,741.5" class="purple"/>
<path d="M616.00,741.50 L636.90,741.80 L636.9,741.8 C637.7,744.8 640.3,753.8 641.9,759.7 C643.6,765.7 645.3,771.6 647.0,777.3 C648.7,782.9 650.3,788.4 652.0,793.5 C653.7,798.5 655.4,803.3 657.0,807.7 C658.7,812.0 660.4,816.1 662.1,819.8 C663.8,823.6 665.4,827.1 667.1,830.3 C668.8,833.5 670.5,836.5 672.2,839.2 C673.8,842.0 675.5,844.5 677.2,846.8 C678.9,849.2 680.6,851.4 682.2,853.4 C683.9,855.5 685.6,857.4 687.3,859.1 C688.9,860.9 690.6,862.5 692.3,864.0 C694.0,865.5 695.7,866.9 697.3,868.1 C699.0,869.4 700.7,870.5 702.4,871.5 C704.1,872.5 705.7,873.3 707.4,874.1 C709.1,874.9 710.8,875.5 712.5,876.0 C714.1,876.6 715.8,877.0 717.5,877.3 C719.2,877.6 720.8,877.8 722.5,877.9 C724.2,878.0 725.9,878.0 727.6,877.9 C729.2,877.8 730.9,877.6 732.6,877.3 C734.3,877.0 736.0,876.7 737.6,876.2 C739.3,875.7 741.0,875.2 742.7,874.5 C744.4,873.9 746.0,873.2 747.7,872.4 C749.4,871.6 751.1,870.7 752.8,869.7 C754.4,868.8 756.1,867.7 757.8,866.6 C759.5,865.5 761.1,864.4 762.8,863.1 C764.5,861.9 766.2,860.6 767.9,859.2 C769.5,857.9 771.2,856.5 772.9,855.0 C774.6,853.5 776.3,852.0 777.9,850.4 C779.6,848.9 781.3,847.2 783.0,845.6 C784.7,843.9 786.3,842.2 788.0,840.4 C789.7,838.7 791.4,836.9 793.0,835.1 C794.7,833.2 796.4,831.4 798.1,829.5 C799.8,827.6 801.4,825.7 803.1,823.8 C804.8,821.8 806.5,819.9 808.2,818.0 C809.8,816.0 811.5,814.1 813.2,812.1 C814.9,810.2 816.6,808.2 818.2,806.3 C819.9,804.4 821.6,802.5 823.3,800.7 C824.9,798.8 826.6,796.9 828.3,795.1 C830.0,793.3 831.7,791.6 833.3,789.8 C835.0,788.1 836.7,786.5 838.4,784.8 C840.1,783.2 841.7,781.7 843.4,780.2 C845.1,778.7 846.8,777.2 848.5,775.9 C850.1,774.5 851.8,773.1 853.5,771.8 C855.2,770.6 856.8,769.3 858.5,768.2 C860.2,767.0 861.9,765.9 863.6,764.8 C865.2,763.7 866.9,762.7 868.6,761.7 C870.3,760.7 872.0,759.8 873.6,758.9 C875.3,758.0 877.0,757.1 878.7,756.3 C880.4,755.5 882.0,754.8 883.7,754.0 C885.4,753.3 887.1,752.6 888.7,752.0 C890.4,751.3 892.1,750.7 893.8,750.2 C895.5,749.6 897.1,749.1 898.8,748.6 C900.5,748.1 902.2,747.7 903.9,747.2 C905.5,746.8 907.2,746.4 908.9,746.0 C910.6,745.7 912.3,745.4 913.9,745.1 C915.6,744.7 917.3,744.5 919.0,744.2 C920.7,744.0 922.3,743.7 924.0,743.5 C925.7,743.3 927.4,743.2 929.0,743.0 C930.7,742.8 932.4,742.7 934.1,742.6 C935.8,742.5 937.4,742.4 939.1,742.3 C940.8,742.2 942.5,742.1 944.2,742.1 C945.8,742.0 947.5,742.0 949.2,741.9 C950.9,741.9 952.6,741.9 954.2,741.9 C955.9,741.8 957.6,741.8 959.3,741.8 C960.9,741.8 962.6,741.8 964.3,741.9 C966.0,741.9 967.7,741.9 969.3,741.9 C971.0,741.9 972.7,741.9 974.4,741.9 C976.1,741.9 977.7,742.0 979.4,742.0 C981.1,742.0 982.8,742.0 984.5,742.0 C986.1,742.0 987.8,742.0 989.5,742.0 C991.2,741.9 992.8,741.9 994.5,741.9 C996.2,741.8 997.9,741.8 999.6,741.7 C1001.2,741.7 1003.8,741.5 1004.6,741.5" class="green"/>
<rect x="616.20" y="690.00" width="388.10" height="197.60" class="fr"/>
<line x1="858.40" y1="789.00" x2="907.80" y2="789.00" class="blue lg"/>
<line x1="858.40" y1="821.20" x2="907.80" y2="821.20" class="purple lg" style="stroke-width:4.0"/>
<line x1="858.40" y1="855.60" x2="907.80" y2="855.60" class="green lg" style="stroke-width:4.2"/>
<text class="l" transform="matrix(0.8902 0 0 1.0000 100.99 245.00)">0</text>
<text class="l" transform="matrix(0.8896 0 0 1.0000 158.29 245.00)">10</text>
<text class="l" transform="matrix(0.9527 0 0 1.0000 221.15 245.00)">20</text>
<text class="l" transform="matrix(0.9654 0 0 1.0000 285.00 245.00)">30</text>
<text class="l" transform="matrix(0.9516 0 0 1.0000 350.09 245.00)">40</text>
<text class="l" transform="matrix(0.9595 0 0 1.0000 414.81 245.00)">50</text>
<text class="l" transform="matrix(0.9555 0 0 1.0000 478.75 245.00)">60</text>
<text class="c" transform="matrix(0.9434 0 0 0.8600 256.07 283.89)">时间</text>
<text class="l" transform="matrix(0.9401 0 0 1.0000 325.52 285.00)">/s</text>
<text class="c" transform="matrix(0.9493 0 0 0.7980 232.93 320.05)">（</text>
<text class="c" transform="matrix(0.9493 0 0 0.7980 288.29 320.05)">）</text>
<text class="l" transform="matrix(1.0000 0 0 1.0000 270.32 322.00)">a</text>
<text class="l" transform="matrix(0.8726 0 0 1.0000 320.68 322.00)">W</text>
<text class="l" transform="matrix(0.9100 0 0 1.0000 352.60 322.00)">1</text>
<text class="l" transform="matrix(0.9192 0 0 1.0000 43.62 45.00)">1.15</text>
<text class="l" transform="matrix(0.9408 0 0 1.0000 43.57 134.00)">1.10</text>
<text class="l" transform="matrix(0.9192 0 0 1.0000 43.62 224.00)">1.05</text>
<text class="c" transform="matrix(0.9324 0 0 0.9006 406.30 124.86)">模型</text>
<text class="l" transform="matrix(0.9500 0 0 1.0000 475.00 125.00)">1</text>
<text class="c" transform="matrix(0.9324 0 0 0.9006 406.30 158.46)">模型</text>
<text class="l" transform="matrix(0.9500 0 0 1.0000 475.00 159.00)">2</text>
<text class="c" transform="matrix(0.9324 0 0 0.9006 406.30 191.66)">模型</text>
<text class="l" transform="matrix(0.9500 0 0 1.0000 475.00 192.00)">3</text>
<text class="l" transform="matrix(0 -0.9463 0.9624 0 26.69 129.74)">(pu)</text>
<text class="i" transform="matrix(0 -0.9850 0.9278 0 26.67 154.57)">ω</text>
<text class="l" transform="matrix(0.8902 0 0 1.0000 609.19 245.00)">0</text>
<text class="l" transform="matrix(0.8896 0 0 1.0000 666.49 245.00)">10</text>
<text class="l" transform="matrix(0.9527 0 0 1.0000 729.35 245.00)">20</text>
<text class="l" transform="matrix(0.9654 0 0 1.0000 793.20 245.00)">30</text>
<text class="l" transform="matrix(0.9516 0 0 1.0000 858.29 245.00)">40</text>
<text class="l" transform="matrix(0.9595 0 0 1.0000 923.01 245.00)">50</text>
<text class="l" transform="matrix(0.9555 0 0 1.0000 986.95 245.00)">60</text>
<text class="c" transform="matrix(0.9434 0 0 0.8600 764.27 283.99)">时间</text>
<text class="l" transform="matrix(0.9401 0 0 1.0000 833.72 285.00)">/s</text>
<text class="c" transform="matrix(0.9493 0 0 0.7980 741.13 320.15)">（</text>
<text class="c" transform="matrix(0.9493 0 0 0.7980 796.49 320.15)">）</text>
<text class="l" transform="matrix(1.0000 0 0 1.0000 779.65 322.00)">b</text>
<text class="l" transform="matrix(0.8726 0 0 1.0000 828.88 322.00)">W</text>
<text class="l" transform="matrix(0.9100 0 0 1.0000 860.80 322.00)">2</text>
<text class="l" transform="matrix(0.9441 0 0 1.0000 565.16 28.00)">0.9</text>
<text class="l" transform="matrix(0.9463 0 0 1.0000 565.56 159.00)">1.0</text>
<text class="c" transform="matrix(0.9324 0 0 0.9006 912.00 124.76)">模型</text>
<text class="l" transform="matrix(0.9500 0 0 1.0000 979.20 125.00)">1</text>
<text class="c" transform="matrix(0.9324 0 0 0.9006 912.00 158.46)">模型</text>
<text class="l" transform="matrix(0.9500 0 0 1.0000 979.20 159.00)">2</text>
<text class="c" transform="matrix(0.9324 0 0 0.9006 912.00 191.36)">模型</text>
<text class="l" transform="matrix(0.9500 0 0 1.0000 979.20 192.00)">3</text>
<text class="l" transform="matrix(0 -0.9463 0.9624 0 550.89 130.04)">(pu)</text>
<text class="i" transform="matrix(0 -0.9809 0.9171 0 550.98 154.76)">ω</text>
<text class="l" transform="matrix(0.8902 0 0 1.0000 101.19 583.00)">0</text>
<text class="l" transform="matrix(0.8896 0 0 1.0000 158.49 583.00)">10</text>
<text class="l" transform="matrix(0.9527 0 0 1.0000 221.35 583.00)">20</text>
<text class="l" transform="matrix(0.9654 0 0 1.0000 285.20 583.00)">30</text>
<text class="l" transform="matrix(0.9516 0 0 1.0000 350.29 583.00)">40</text>
<text class="l" transform="matrix(0.9595 0 0 1.0000 415.01 583.00)">50</text>
<text class="l" transform="matrix(0.9555 0 0 1.0000 478.95 583.00)">60</text>
<text class="c" transform="matrix(0.9434 0 0 0.8600 256.27 621.79)">时间</text>
<text class="l" transform="matrix(0.9401 0 0 1.0000 325.72 623.00)">/s</text>
<text class="c" transform="matrix(0.9493 0 0 0.7980 233.13 657.95)">（</text>
<text class="c" transform="matrix(0.9493 0 0 0.7980 288.49 657.95)">）</text>
<text class="l" transform="matrix(1.0000 0 0 1.0000 270.53 660.00)">c</text>
<text class="l" transform="matrix(0.8726 0 0 1.0000 320.88 660.00)">W</text>
<text class="l" transform="matrix(0.9100 0 0 1.0000 352.80 660.00)">3</text>
<text class="l" transform="matrix(0.9373 0 0 1.0000 59.56 365.00)">0.8</text>
<text class="l" transform="matrix(0.9254 0 0 1.0000 59.57 530.00)">0.7</text>
<text class="c" transform="matrix(0.9324 0 0 0.9006 405.90 463.16)">模型</text>
<text class="l" transform="matrix(0.9500 0 0 1.0000 474.50 464.00)">1</text>
<text class="c" transform="matrix(0.9324 0 0 0.9006 405.90 496.66)">模型</text>
<text class="l" transform="matrix(0.9500 0 0 1.0000 474.50 497.00)">2</text>
<text class="c" transform="matrix(0.9324 0 0 0.9006 405.90 529.76)">模型</text>
<text class="l" transform="matrix(0.9500 0 0 1.0000 474.50 530.00)">3</text>
<text class="l" transform="matrix(0 -0.9514 0.9041 0 42.98 468.05)">(pu)</text>
<text class="i" transform="matrix(0 -0.9809 0.9440 0 43.45 492.76)">ω</text>
<text class="l" transform="matrix(0.8902 0 0 1.0000 609.19 583.00)">0</text>
<text class="l" transform="matrix(0.8896 0 0 1.0000 666.49 583.00)">10</text>
<text class="l" transform="matrix(0.9527 0 0 1.0000 729.35 583.00)">20</text>
<text class="l" transform="matrix(0.9654 0 0 1.0000 793.20 583.00)">30</text>
<text class="l" transform="matrix(0.9516 0 0 1.0000 858.29 583.00)">40</text>
<text class="l" transform="matrix(0.9595 0 0 1.0000 923.01 583.00)">50</text>
<text class="l" transform="matrix(0.9555 0 0 1.0000 986.95 583.00)">60</text>
<text class="c" transform="matrix(0.9434 0 0 0.8600 764.27 621.79)">时间</text>
<text class="l" transform="matrix(0.9401 0 0 1.0000 833.72 623.00)">/s</text>
<text class="c" transform="matrix(0.9493 0 0 0.7980 741.13 657.95)">（</text>
<text class="c" transform="matrix(0.9493 0 0 0.7980 796.49 657.95)">）</text>
<text class="l" transform="matrix(1.0000 0 0 1.0000 778.52 660.00)">d</text>
<text class="l" transform="matrix(0.8726 0 0 1.0000 828.88 660.00)">W</text>
<text class="l" transform="matrix(0.9100 0 0 1.0000 860.80 660.00)">4</text>
<text class="l" transform="matrix(0.9373 0 0 1.0000 565.26 395.00)">0.9</text>
<text class="l" transform="matrix(0.9259 0 0 1.0000 565.27 536.00)">0.8</text>
<text class="c" transform="matrix(0.9324 0 0 0.9006 911.70 462.36)">模型</text>
<text class="l" transform="matrix(0.9500 0 0 1.0000 979.10 463.00)">1</text>
<text class="c" transform="matrix(0.9324 0 0 0.9006 911.70 495.96)">模型</text>
<text class="l" transform="matrix(0.9500 0 0 1.0000 979.10 496.00)">2</text>
<text class="c" transform="matrix(0.9324 0 0 0.9006 911.70 528.96)">模型</text>
<text class="l" transform="matrix(0.9500 0 0 1.0000 979.10 530.00)">3</text>
<text class="l" transform="matrix(0 -0.9514 0.9624 0 550.89 468.05)">(pu)</text>
<text class="i" transform="matrix(0 -0.9809 0.9171 0 550.98 492.76)">ω</text>
<text class="l" transform="matrix(0.8902 0 0 1.0000 101.19 921.00)">0</text>
<text class="l" transform="matrix(0.8896 0 0 1.0000 158.49 921.00)">10</text>
<text class="l" transform="matrix(0.9527 0 0 1.0000 221.35 921.00)">20</text>
<text class="l" transform="matrix(0.9654 0 0 1.0000 285.20 921.00)">30</text>
<text class="l" transform="matrix(0.9516 0 0 1.0000 350.29 921.00)">40</text>
<text class="l" transform="matrix(0.9595 0 0 1.0000 415.01 921.00)">50</text>
<text class="l" transform="matrix(0.9555 0 0 1.0000 478.95 921.00)">60</text>
<text class="c" transform="matrix(0.9434 0 0 0.8600 256.27 959.89)">时间</text>
<text class="l" transform="matrix(0.9401 0 0 1.0000 325.72 961.00)">/s</text>
<text class="c" transform="matrix(0.9493 0 0 0.7980 233.13 996.95)">（</text>
<text class="c" transform="matrix(0.9493 0 0 0.7980 288.49 996.95)">）</text>
<text class="l" transform="matrix(1.0000 0 0 1.0000 270.53 999.00)">e</text>
<text class="l" transform="matrix(0.8726 0 0 1.0000 320.88 999.00)">W</text>
<text class="l" transform="matrix(0.9100 0 0 1.0000 352.80 999.00)">5</text>
<text class="l" transform="matrix(0.9192 0 0 1.0000 43.62 702.00)">1.05</text>
<text class="l" transform="matrix(0.9325 0 0 1.0000 43.59 843.00)">1.00</text>
<text class="c" transform="matrix(0.9324 0 0 0.9006 405.70 802.76)">模型</text>
<text class="l" transform="matrix(0.9500 0 0 1.0000 474.60 803.00)">1</text>
<text class="c" transform="matrix(0.9324 0 0 0.9006 405.70 835.66)">模型</text>
<text class="l" transform="matrix(0.9500 0 0 1.0000 474.60 836.00)">2</text>
<text class="c" transform="matrix(0.9324 0 0 0.9006 405.70 869.26)">模型</text>
<text class="l" transform="matrix(0.9500 0 0 1.0000 474.60 870.00)">3</text>
<text class="l" transform="matrix(0 -0.9480 0.9391 0 26.59 807.05)">(pu)</text>
<text class="i" transform="matrix(0 -0.9105 0.9602 0 27.13 830.02)">ω</text>
<text class="l" transform="matrix(0.8902 0 0 1.0000 609.19 922.00)">0</text>
<text class="l" transform="matrix(0.8896 0 0 1.0000 666.49 922.00)">10</text>
<text class="l" transform="matrix(0.9527 0 0 1.0000 729.35 922.00)">20</text>
<text class="l" transform="matrix(0.9654 0 0 1.0000 793.20 922.00)">30</text>
<text class="l" transform="matrix(0.9516 0 0 1.0000 858.29 922.00)">40</text>
<text class="l" transform="matrix(0.9595 0 0 1.0000 923.01 922.00)">50</text>
<text class="l" transform="matrix(0.9555 0 0 1.0000 986.95 922.00)">60</text>
<text class="c" transform="matrix(0.9434 0 0 0.8600 764.27 959.69)">时间</text>
<text class="l" transform="matrix(0.9401 0 0 1.0000 833.72 961.00)">/s</text>
<text class="c" transform="matrix(0.8889 0 0 0.7980 745.00 996.95)">（</text>
<text class="c" transform="matrix(0.9407 0 0 0.7980 794.31 996.95)">）</text>
<text class="l" transform="matrix(1.0000 0 0 1.0000 781.59 999.00)">f</text>
<text class="l" transform="matrix(0.9262 0 0 1.0000 825.91 999.00)">W</text>
<text class="l" transform="matrix(0.9100 0 0 1.0000 859.20 999.00)">6</text>
<text class="l" transform="matrix(0.9557 0 0 1.0000 548.04 704.00)">1.10</text>
<text class="l" transform="matrix(0.9225 0 0 1.0000 548.51 901.00)">1.05</text>
<text class="c" transform="matrix(0.9324 0 0 0.9006 912.00 799.26)">模型</text>
<text class="l" transform="matrix(0.9500 0 0 1.0000 979.90 800.00)">1</text>
<text class="c" transform="matrix(0.9324 0 0 0.9006 912.00 832.96)">模型</text>
<text class="l" transform="matrix(0.9500 0 0 1.0000 979.90 834.00)">2</text>
<text class="c" transform="matrix(0.9324 0 0 0.9006 912.00 865.86)">模型</text>
<text class="l" transform="matrix(0.9500 0 0 1.0000 979.90 866.00)">3</text>
<text class="l" transform="matrix(0 -0.9616 0.9391 0 530.09 807.85)">(pu)</text>
<text class="i" transform="matrix(0 -0.8981 0.9926 0 531.10 830.52)">ω</text>
</svg>
</body></html>
